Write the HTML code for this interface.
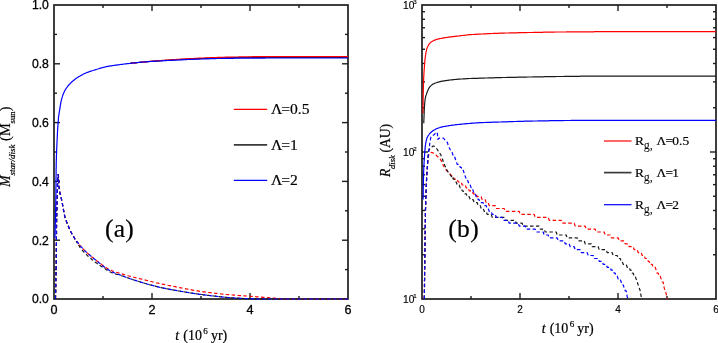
<!DOCTYPE html>
<html><head><meta charset="utf-8"><title>plot</title>
<style>
html,body{margin:0;padding:0;background:#fff;}
body{width:718px;height:343px;overflow:hidden;font-family:"Liberation Sans",sans-serif;}
svg{display:block;will-change:transform;}
</style></head><body>
<svg width="718" height="343" viewBox="0 0 718 343">
<rect width="718" height="343" fill="#fff"/>
<line x1="103" y1="299" x2="103" y2="296" stroke="#1e1e1e" stroke-width="1.4"/>
<line x1="103" y1="5" x2="103" y2="8" stroke="#1e1e1e" stroke-width="1.4"/>
<line x1="152" y1="299" x2="152" y2="293" stroke="#1e1e1e" stroke-width="1.4"/>
<line x1="152" y1="5" x2="152" y2="11" stroke="#1e1e1e" stroke-width="1.4"/>
<line x1="201" y1="299" x2="201" y2="296" stroke="#1e1e1e" stroke-width="1.4"/>
<line x1="201" y1="5" x2="201" y2="8" stroke="#1e1e1e" stroke-width="1.4"/>
<line x1="250" y1="299" x2="250" y2="293" stroke="#1e1e1e" stroke-width="1.4"/>
<line x1="250" y1="5" x2="250" y2="11" stroke="#1e1e1e" stroke-width="1.4"/>
<line x1="299" y1="299" x2="299" y2="296" stroke="#1e1e1e" stroke-width="1.4"/>
<line x1="299" y1="5" x2="299" y2="8" stroke="#1e1e1e" stroke-width="1.4"/>
<line x1="471" y1="299" x2="471" y2="296" stroke="#1e1e1e" stroke-width="1.4"/>
<line x1="471" y1="5" x2="471" y2="8" stroke="#1e1e1e" stroke-width="1.4"/>
<line x1="520" y1="299" x2="520" y2="293" stroke="#1e1e1e" stroke-width="1.4"/>
<line x1="520" y1="5" x2="520" y2="11" stroke="#1e1e1e" stroke-width="1.4"/>
<line x1="569" y1="299" x2="569" y2="296" stroke="#1e1e1e" stroke-width="1.4"/>
<line x1="569" y1="5" x2="569" y2="8" stroke="#1e1e1e" stroke-width="1.4"/>
<line x1="618" y1="299" x2="618" y2="293" stroke="#1e1e1e" stroke-width="1.4"/>
<line x1="618" y1="5" x2="618" y2="11" stroke="#1e1e1e" stroke-width="1.4"/>
<line x1="667" y1="299" x2="667" y2="296" stroke="#1e1e1e" stroke-width="1.4"/>
<line x1="667" y1="5" x2="667" y2="8" stroke="#1e1e1e" stroke-width="1.4"/>
<line x1="54" y1="269.60" x2="57" y2="269.60" stroke="#1e1e1e" stroke-width="1.4"/>
<line x1="348" y1="269.60" x2="345" y2="269.60" stroke="#1e1e1e" stroke-width="1.4"/>
<line x1="54" y1="240.20" x2="60" y2="240.20" stroke="#1e1e1e" stroke-width="1.4"/>
<line x1="348" y1="240.20" x2="342" y2="240.20" stroke="#1e1e1e" stroke-width="1.4"/>
<line x1="54" y1="210.80" x2="57" y2="210.80" stroke="#1e1e1e" stroke-width="1.4"/>
<line x1="348" y1="210.80" x2="345" y2="210.80" stroke="#1e1e1e" stroke-width="1.4"/>
<line x1="54" y1="181.40" x2="60" y2="181.40" stroke="#1e1e1e" stroke-width="1.4"/>
<line x1="348" y1="181.40" x2="342" y2="181.40" stroke="#1e1e1e" stroke-width="1.4"/>
<line x1="54" y1="152.00" x2="57" y2="152.00" stroke="#1e1e1e" stroke-width="1.4"/>
<line x1="348" y1="152.00" x2="345" y2="152.00" stroke="#1e1e1e" stroke-width="1.4"/>
<line x1="54" y1="122.60" x2="60" y2="122.60" stroke="#1e1e1e" stroke-width="1.4"/>
<line x1="348" y1="122.60" x2="342" y2="122.60" stroke="#1e1e1e" stroke-width="1.4"/>
<line x1="54" y1="93.20" x2="57" y2="93.20" stroke="#1e1e1e" stroke-width="1.4"/>
<line x1="348" y1="93.20" x2="345" y2="93.20" stroke="#1e1e1e" stroke-width="1.4"/>
<line x1="54" y1="63.80" x2="60" y2="63.80" stroke="#1e1e1e" stroke-width="1.4"/>
<line x1="348" y1="63.80" x2="342" y2="63.80" stroke="#1e1e1e" stroke-width="1.4"/>
<line x1="54" y1="34.40" x2="57" y2="34.40" stroke="#1e1e1e" stroke-width="1.4"/>
<line x1="348" y1="34.40" x2="345" y2="34.40" stroke="#1e1e1e" stroke-width="1.4"/>
<line x1="422" y1="254.75" x2="425" y2="254.75" stroke="#1e1e1e" stroke-width="1.4"/>
<line x1="716" y1="254.75" x2="713" y2="254.75" stroke="#1e1e1e" stroke-width="1.4"/>
<line x1="422" y1="228.86" x2="425" y2="228.86" stroke="#1e1e1e" stroke-width="1.4"/>
<line x1="716" y1="228.86" x2="713" y2="228.86" stroke="#1e1e1e" stroke-width="1.4"/>
<line x1="422" y1="210.50" x2="425" y2="210.50" stroke="#1e1e1e" stroke-width="1.4"/>
<line x1="716" y1="210.50" x2="713" y2="210.50" stroke="#1e1e1e" stroke-width="1.4"/>
<line x1="422" y1="196.25" x2="425" y2="196.25" stroke="#1e1e1e" stroke-width="1.4"/>
<line x1="716" y1="196.25" x2="713" y2="196.25" stroke="#1e1e1e" stroke-width="1.4"/>
<line x1="422" y1="184.61" x2="425" y2="184.61" stroke="#1e1e1e" stroke-width="1.4"/>
<line x1="716" y1="184.61" x2="713" y2="184.61" stroke="#1e1e1e" stroke-width="1.4"/>
<line x1="422" y1="174.77" x2="425" y2="174.77" stroke="#1e1e1e" stroke-width="1.4"/>
<line x1="716" y1="174.77" x2="713" y2="174.77" stroke="#1e1e1e" stroke-width="1.4"/>
<line x1="422" y1="166.25" x2="425" y2="166.25" stroke="#1e1e1e" stroke-width="1.4"/>
<line x1="716" y1="166.25" x2="713" y2="166.25" stroke="#1e1e1e" stroke-width="1.4"/>
<line x1="422" y1="158.73" x2="425" y2="158.73" stroke="#1e1e1e" stroke-width="1.4"/>
<line x1="716" y1="158.73" x2="713" y2="158.73" stroke="#1e1e1e" stroke-width="1.4"/>
<line x1="422" y1="152.00" x2="428" y2="152.00" stroke="#1e1e1e" stroke-width="1.4"/>
<line x1="716" y1="152.00" x2="710" y2="152.00" stroke="#1e1e1e" stroke-width="1.4"/>
<line x1="422" y1="107.75" x2="425" y2="107.75" stroke="#1e1e1e" stroke-width="1.4"/>
<line x1="716" y1="107.75" x2="713" y2="107.75" stroke="#1e1e1e" stroke-width="1.4"/>
<line x1="422" y1="81.86" x2="425" y2="81.86" stroke="#1e1e1e" stroke-width="1.4"/>
<line x1="716" y1="81.86" x2="713" y2="81.86" stroke="#1e1e1e" stroke-width="1.4"/>
<line x1="422" y1="63.50" x2="425" y2="63.50" stroke="#1e1e1e" stroke-width="1.4"/>
<line x1="716" y1="63.50" x2="713" y2="63.50" stroke="#1e1e1e" stroke-width="1.4"/>
<line x1="422" y1="49.25" x2="425" y2="49.25" stroke="#1e1e1e" stroke-width="1.4"/>
<line x1="716" y1="49.25" x2="713" y2="49.25" stroke="#1e1e1e" stroke-width="1.4"/>
<line x1="422" y1="37.61" x2="425" y2="37.61" stroke="#1e1e1e" stroke-width="1.4"/>
<line x1="716" y1="37.61" x2="713" y2="37.61" stroke="#1e1e1e" stroke-width="1.4"/>
<line x1="422" y1="27.77" x2="425" y2="27.77" stroke="#1e1e1e" stroke-width="1.4"/>
<line x1="716" y1="27.77" x2="713" y2="27.77" stroke="#1e1e1e" stroke-width="1.4"/>
<line x1="422" y1="19.25" x2="425" y2="19.25" stroke="#1e1e1e" stroke-width="1.4"/>
<line x1="716" y1="19.25" x2="713" y2="19.25" stroke="#1e1e1e" stroke-width="1.4"/>
<line x1="422" y1="11.73" x2="425" y2="11.73" stroke="#1e1e1e" stroke-width="1.4"/>
<line x1="716" y1="11.73" x2="713" y2="11.73" stroke="#1e1e1e" stroke-width="1.4"/>
<rect x="54" y="5" width="294" height="294" fill="none" stroke="#1e1e1e" stroke-width="1.7"/>
<rect x="422" y="5" width="294" height="294" fill="none" stroke="#1e1e1e" stroke-width="1.7"/>
<path d="M55.5,299.0 L55.5,298.0 L55.5,297.0 L55.6,296.0 L55.6,295.0 L55.6,294.0 L55.6,293.0 L55.7,292.0 L55.7,291.0 L55.7,290.0 L55.7,289.0 L55.7,288.0 L55.8,287.0 L55.8,286.0 L55.8,284.9 L55.8,283.9 L55.8,282.9 L55.9,281.9 L55.9,280.9 L55.9,279.9 L55.9,278.9 L55.9,277.9 L56.0,276.9 L56.0,275.9 L56.0,274.9 L56.0,273.9 L56.0,272.9 L56.0,271.9 L56.0,270.9 L56.1,269.9 L56.1,268.9 L56.1,267.9 L56.1,266.9 L56.1,265.9 L56.1,264.9 L56.2,263.9 L56.2,262.9 L56.2,261.9 L56.2,260.9 L56.2,259.9 L56.2,258.9 L56.2,257.9 L56.2,256.8 L56.2,255.8 L56.3,254.8 L56.3,253.8 L56.3,252.8 L56.3,251.8 L56.3,250.8 L56.3,249.8 L56.3,248.8 L56.3,247.8 L56.3,246.8 L56.3,245.8 L56.3,244.8 L56.4,243.8 L56.4,242.8 L56.4,241.8 L56.4,240.8 L56.4,239.8 L56.4,238.8 L56.4,237.8 L56.4,236.8 L56.4,235.8 L56.4,234.8 L56.5,233.8 L56.5,232.8 L56.5,231.8 L56.5,230.7 L56.5,229.7 L56.5,228.7 L56.5,227.7 L56.5,226.7 L56.6,225.7 L56.6,224.7 L56.6,223.7 L56.6,222.7 L56.6,221.7 L56.6,220.7 L56.7,219.7 L56.7,218.7 L56.7,217.7 L56.7,216.7 L56.7,215.7 L56.8,214.7 L56.8,213.7 L56.8,212.7 L56.8,211.7 L56.9,210.7 L56.9,209.7 L56.9,208.7 L56.9,207.7 L56.9,206.7 L57.0,205.7 L57.0,204.7 L57.0,203.7 L57.0,202.6 L57.1,201.6 L57.1,200.6 L57.1,199.6 L57.1,198.6 L57.2,197.6 L57.2,196.6 L57.2,195.6 L57.2,194.6 L57.3,193.6 L57.3,192.6 L57.3,191.6 L57.3,190.6 L57.4,189.6 L57.4,188.6 L57.4,187.6 L57.5,186.6 L57.5,185.6 L57.5,184.6 L57.6,183.6 L57.6,182.6 L57.7,181.4 L57.7,180.1 L57.8,178.7 L57.8,177.5 L57.9,176.3 L57.9,175.4 L58.0,174.8 L58.1,174.6 L58.2,175.1 L58.4,176.3 L58.6,177.6 L58.6,178.6 L58.7,179.6 L58.7,180.6 L58.7,181.6 L58.8,182.6 L58.8,183.6 L58.8,184.6 L58.9,185.6 L58.9,186.6 L59.1,187.6 L59.2,188.6 L59.4,189.6 L59.5,190.6 L59.7,191.6 L59.9,192.6 L60.1,193.6 L60.3,194.5 L60.6,195.5 L60.8,196.5 L61.0,197.5 L61.3,198.4 L61.5,199.4 L61.7,200.4 L61.9,201.4 L62.1,202.4 L62.3,203.4 L62.5,204.3 L62.7,205.3 L62.9,206.3 L63.1,207.3 L63.3,208.3 L63.4,209.3 L63.6,210.3 L63.8,211.3 L63.9,212.3 L64.1,213.3 L64.3,214.2 L64.5,215.2 L64.7,216.2 L65.0,217.1 L65.3,218.1 L65.6,219.1 L65.9,220.0 L66.3,221.0 L66.6,221.9 L67.0,222.8 L67.3,223.8 L67.7,224.7 L68.1,225.6 L68.5,226.6 L68.9,227.5 L69.3,228.4 L69.7,229.3 L70.1,230.2 L70.6,231.1 L71.0,232.0 L71.5,232.9 L71.9,233.8 L72.4,234.7 L72.9,235.6 L73.4,236.4 L74.0,237.3 L74.5,238.1 L75.0,239.0 L75.6,239.8 L76.2,240.6 L76.8,241.4 L77.4,242.2 L78.0,243.0 L78.7,243.8 L79.3,244.6" fill="none" stroke="#ff0000" stroke-width="1.2" stroke-linejoin="round" stroke-dasharray="3.5 2.4" stroke-dashoffset="0"/>
<path d="M79.3,244.6 L79.9,245.3 L80.6,246.1 L81.2,246.9 L81.9,247.6 L82.6,248.4 L83.3,249.1 L84.0,249.8 L84.7,250.6 L85.4,251.3 L86.1,251.9 L86.9,252.6 L87.6,253.3 L88.4,253.9 L89.1,254.6 L89.9,255.2 L90.7,255.9 L91.4,256.5 L92.2,257.2 L93.0,257.8 L93.8,258.5 L94.5,259.1 L95.3,259.7 L96.1,260.3 L96.9,260.9 L97.6,261.5 L98.4,262.1 L99.2,262.6 L100.0,263.2 L100.8,263.8 L101.5,264.4 L102.3,265.0 L103.1,265.6 L103.9,266.2 L104.7,266.8 L105.5,267.3 L106.3,267.8 L107.1,268.3 L108.0,268.8 L108.8,269.3 L109.7,269.7 L110.6,270.1 L111.5,270.6 L112.4,270.9 L113.3,271.3 L114.2,271.6 L115.2,271.9 L116.1,272.2 L117.0,272.5 L118.0,272.7 L118.9,273.0 L119.9,273.3 L120.8,273.5 L121.8,273.8 L122.7,274.1 L123.6,274.4 L124.6,274.7 L125.5,275.0 L126.5,275.2 L127.4,275.5 L128.3,275.8 L129.3,276.0 L130.2,276.3 L131.2,276.5 L132.1,276.8 L133.1,277.0 L134.0,277.3 L135.0,277.5 L136.0,277.8 L136.9,278.0 L137.9,278.3 L138.8,278.5 L139.8,278.7 L140.7,279.0 L141.7,279.2 L142.7,279.5 L143.6,279.7 L144.6,279.9 L145.6,280.1 L146.5,280.4 L147.5,280.6 L148.5,280.8 L149.4,281.0 L150.4,281.3 L151.4,281.5 L152.3,281.8 L153.3,282.0 L154.3,282.3 L155.2,282.5 L156.2,282.8 L157.2,283.0 L158.2,283.2 L159.1,283.4 L160.1,283.7 L161.1,283.9 L162.1,284.1 L163.0,284.3 L164.0,284.4 L165.0,284.6 L166.0,284.8 L167.0,285.0 L168.0,285.3 L169.0,285.5 L169.9,285.7 L170.9,285.9 L171.9,286.1 L172.9,286.3 L173.9,286.5 L174.9,286.7 L175.9,286.9 L176.9,287.1 L177.9,287.3 L178.8,287.4 L179.8,287.6 L180.8,287.8 L181.8,288.0 L182.8,288.2 L183.8,288.4 L184.8,288.6 L185.8,288.8 L186.8,289.0 L187.7,289.2 L188.7,289.4 L189.7,289.5 L190.7,289.7 L191.7,289.9 L192.7,290.1 L193.7,290.3 L194.7,290.4 L195.7,290.6 L196.7,290.8 L197.7,290.9 L198.7,291.1 L199.7,291.3 L200.7,291.4 L201.6,291.6 L202.6,291.7 L203.6,291.8 L204.6,291.9 L205.6,292.1 L206.6,292.2 L207.6,292.3 L208.6,292.5 L209.6,292.6 L210.6,292.7 L211.6,292.8 L212.6,292.9 L213.6,293.0 L214.6,293.2 L215.6,293.3 L216.6,293.4 L217.6,293.5 L218.6,293.6 L219.6,293.7 L220.6,293.9 L221.6,294.0 L222.6,294.1 L223.6,294.2 L224.6,294.3 L225.6,294.4 L226.6,294.5 L227.6,294.6 L228.6,294.7 L229.6,294.7 L230.6,294.8 L231.6,294.9 L232.6,295.0 L233.6,295.1 L234.6,295.2 L235.6,295.3 L236.6,295.3 L237.6,295.4 L238.6,295.5 L239.6,295.6 L240.6,295.6 L241.6,295.7 L242.6,295.8 L243.6,295.8 L244.6,295.9 L245.6,296.0 L246.6,296.0 L247.6,296.1 L248.6,296.1 L249.6,296.2 L250.6,296.3 L251.6,296.4 L252.6,296.5 L253.6,296.6 L254.6,296.6 L255.7,296.7 L256.7,296.8 L257.7,296.9 L258.7,297.0 L259.7,297.0 L260.7,297.1 L261.7,297.2 L262.7,297.3 L263.7,297.3 L264.7,297.4 L265.7,297.5 L266.7,297.6 L267.7,297.7 L268.7,297.7 L269.7,297.8 L270.7,297.9 L271.7,298.0 L272.7,298.1 L273.7,298.1 L274.7,298.2 L275.7,298.3 L276.7,298.4 L277.7,298.5 L278.7,298.6 L279.7,298.6 L280.7,298.7 L281.7,298.8 L282.7,298.9 L283.8,299.0 L284.8,299.0 L285.8,299.0 L286.8,299.0 L287.8,299.0 L288.8,299.0 L289.8,299.0 L290.8,299.0 L291.8,299.0 L292.8,299.0 L293.8,299.0 L294.8,299.0 L295.8,299.0 L296.8,299.0 L297.8,299.0 L298.8,299.0 L299.8,299.0 L300.8,299.0 L301.8,299.0 L302.8,299.0 L303.8,299.0 L304.8,299.0 L305.8,299.0 L306.8,299.0 L307.8,299.0 L308.8,299.0 L309.8,299.0 L310.9,299.0 L311.9,299.0 L312.9,299.0 L313.9,299.0 L314.9,299.0 L315.9,299.0 L316.9,299.0 L317.9,299.0 L318.9,299.0 L319.9,299.0 L320.9,299.0 L321.9,299.0 L322.9,299.0 L323.9,299.0 L324.9,299.0 L325.9,299.0 L326.9,299.0 L327.9,299.0 L328.9,299.0 L329.9,299.0 L330.9,299.0 L331.9,299.0 L332.9,299.0 L333.9,299.0 L334.9,299.0 L336.0,299.0 L337.0,299.0 L338.0,299.0 L339.0,299.0 L340.0,299.0 L341.0,299.0 L342.0,299.0 L343.0,299.0 L344.0,299.0 L345.0,299.0 L346.0,299.0 L347.0,299.0 L348.0,299.0" fill="none" stroke="#ff0000" stroke-width="1.2" stroke-linejoin="round" stroke-dasharray="3.5 2.4" stroke-dashoffset="0.6"/>
<path d="M55.5,299.0 L55.5,298.0 L55.5,297.0 L55.6,296.0 L55.6,295.0 L55.6,294.0 L55.6,293.0 L55.7,292.0 L55.7,291.0 L55.7,290.0 L55.7,289.0 L55.7,288.0 L55.8,287.0 L55.8,286.0 L55.8,284.9 L55.8,283.9 L55.8,282.9 L55.9,281.9 L55.9,280.9 L55.9,279.9 L55.9,278.9 L55.9,277.9 L56.0,276.9 L56.0,275.9 L56.0,274.9 L56.0,273.9 L56.0,272.9 L56.0,271.9 L56.0,270.9 L56.1,269.9 L56.1,268.9 L56.1,267.9 L56.1,266.9 L56.1,265.9 L56.1,264.9 L56.2,263.9 L56.2,262.9 L56.2,261.9 L56.2,260.9 L56.2,259.9 L56.2,258.9 L56.2,257.9 L56.2,256.8 L56.2,255.8 L56.3,254.8 L56.3,253.8 L56.3,252.8 L56.3,251.8 L56.3,250.8 L56.3,249.8 L56.3,248.8 L56.3,247.8 L56.3,246.8 L56.3,245.8 L56.3,244.8 L56.4,243.8 L56.4,242.8 L56.4,241.8 L56.4,240.8 L56.4,239.8 L56.4,238.8 L56.4,237.8 L56.4,236.8 L56.4,235.8 L56.4,234.8 L56.5,233.8 L56.5,232.8 L56.5,231.8 L56.5,230.7 L56.5,229.7 L56.5,228.7 L56.5,227.7 L56.5,226.7 L56.6,225.7 L56.6,224.7 L56.6,223.7 L56.6,222.7 L56.6,221.7 L56.6,220.7 L56.7,219.7 L56.7,218.7 L56.7,217.7 L56.7,216.7 L56.7,215.7 L56.8,214.7 L56.8,213.7 L56.8,212.7 L56.8,211.7 L56.9,210.7 L56.9,209.7 L56.9,208.7 L56.9,207.7 L56.9,206.7 L57.0,205.7 L57.0,204.7 L57.0,203.7 L57.0,202.6 L57.1,201.6 L57.1,200.6 L57.1,199.6 L57.1,198.6 L57.2,197.6 L57.2,196.6 L57.2,195.6 L57.2,194.6 L57.3,193.6 L57.3,192.6 L57.3,191.6 L57.3,190.6 L57.4,189.6 L57.4,188.6 L57.4,187.6 L57.5,186.6 L57.5,185.6 L57.5,184.6 L57.6,183.6 L57.6,182.6 L57.7,181.4 L57.7,180.1 L57.8,178.7 L57.8,177.5 L57.9,176.3 L57.9,175.4 L58.0,174.8 L58.1,174.6 L58.2,175.1 L58.4,176.3 L58.6,177.6 L58.6,178.6 L58.7,179.6 L58.7,180.6 L58.7,181.6 L58.8,182.6 L58.8,183.6 L58.8,184.6 L58.9,185.6 L58.9,186.6 L59.1,187.6 L59.2,188.6 L59.4,189.6 L59.5,190.6 L59.7,191.6 L59.9,192.6 L60.1,193.6 L60.3,194.5 L60.6,195.5 L60.8,196.5 L61.0,197.5 L61.3,198.4 L61.5,199.4 L61.7,200.4 L61.9,201.4 L62.1,202.4 L62.3,203.4 L62.5,204.3 L62.7,205.3 L62.9,206.3 L63.1,207.3 L63.3,208.3 L63.4,209.3 L63.6,210.3 L63.8,211.3 L63.9,212.3 L64.1,213.3 L64.3,214.2 L64.5,215.2 L64.7,216.2 L65.0,217.1 L65.3,218.1 L65.6,219.1 L65.9,220.0 L66.3,221.0 L66.6,221.9 L67.0,222.8 L67.3,223.8 L67.7,224.7 L68.1,225.6 L68.5,226.6 L68.9,227.5 L69.3,228.4 L69.7,229.3 L70.1,230.2 L70.6,231.1 L71.0,232.0 L71.5,232.9 L71.9,233.8 L72.4,234.7 L72.9,235.6 L73.4,236.4 L74.0,237.3 L74.5,238.3 L75.0,239.3 L75.6,240.3 L76.2,241.3" fill="none" stroke="#1a1a1a" stroke-width="1.2" stroke-linejoin="round" stroke-dasharray="3.5 2.4" stroke-dashoffset="0"/>
<path d="M76.2,241.3 L76.8,242.4 L77.4,243.4 L78.0,244.4 L78.7,245.3 L79.3,246.3 L79.9,247.3 L80.6,248.2 L81.2,249.0 L81.9,249.8 L82.6,250.6 L83.3,251.4 L84.0,252.2 L84.7,253.0 L85.4,253.8 L86.1,254.4 L86.9,255.1 L87.6,255.8 L88.4,256.4 L89.1,257.1 L89.9,257.7 L90.7,258.4 L91.4,259.0 L92.2,259.7 L93.0,260.3 L93.8,261.0 L94.5,261.6 L95.3,262.2 L96.1,262.8 L96.9,263.3 L97.6,263.9 L98.4,264.4 L99.2,265.0 L100.0,265.5 L100.8,266.0 L101.5,266.6 L102.3,267.1 L103.1,267.6 L103.9,268.1 L104.7,268.6 L105.5,269.1 L106.3,269.7 L107.1,270.2 L108.0,270.7 L108.8,271.2 L109.7,271.7 L110.6,272.1 L111.5,272.6 L112.4,272.9 L113.3,273.3 L114.2,273.6 L115.2,273.8 L116.1,274.1 L117.0,274.3 L118.0,274.6 L118.9,274.9 L119.9,275.2 L120.8,275.5 L121.8,275.8 L122.7,276.1" fill="none" stroke="#1a1a1a" stroke-width="1.2" stroke-linejoin="round" stroke-dasharray="3.5 2.4" stroke-dashoffset="1.47"/>
<path d="M122.7,276.1 L123.6,276.4 L124.6,276.7 L125.5,277.0 L126.5,277.4 L127.4,277.7 L128.3,278.0 L129.3,278.4 L130.2,278.7 L131.2,279.0 L132.1,279.4 L133.1,279.7 L134.0,280.0 L135.0,280.3 L136.0,280.6 L136.9,280.9 L137.9,281.2 L138.8,281.5 L139.8,281.8 L140.7,282.1 L141.7,282.4 L142.7,282.7 L143.6,282.9 L144.6,283.2 L145.6,283.5 L146.5,283.8 L147.5,284.1 L148.5,284.3 L149.4,284.6 L150.4,284.9 L151.4,285.1 L152.3,285.4 L153.3,285.7 L154.3,285.9 L155.2,286.2 L156.2,286.4 L157.2,286.7 L158.2,286.9 L159.1,287.2 L160.1,287.4 L161.1,287.6 L162.1,287.8 L163.0,288.0 L164.0,288.2 L165.0,288.4 L166.0,288.6 L167.0,288.8 L168.0,289.0 L169.0,289.2 L169.9,289.4 L170.9,289.6 L171.9,289.7 L172.9,289.9 L173.9,290.1 L174.9,290.3 L175.9,290.4 L176.9,290.6 L177.9,290.8 L178.8,291.0 L179.8,291.1 L180.8,291.3 L181.8,291.5 L182.8,291.6 L183.8,291.8 L184.8,292.0 L185.8,292.1 L186.8,292.3 L187.7,292.5 L188.7,292.6 L189.7,292.8 L190.7,293.0 L191.7,293.1 L192.7,293.3 L193.7,293.4 L194.7,293.6 L195.7,293.7 L196.7,293.9 L197.7,294.0 L198.7,294.1 L199.7,294.3 L200.7,294.4 L201.6,294.5 L202.6,294.7 L203.6,294.8 L204.6,294.9 L205.6,295.1 L206.6,295.2 L207.6,295.3 L208.6,295.4 L209.6,295.5 L210.6,295.7 L211.6,295.8 L212.6,295.9 L213.6,296.0 L214.6,296.1 L215.6,296.2 L216.6,296.3 L217.6,296.5 L218.6,296.6 L219.6,296.7 L220.6,296.8 L221.6,296.9 L222.6,297.0 L223.6,297.1 L224.6,297.2 L225.6,297.3 L226.6,297.4 L227.6,297.5 L228.6,297.6 L229.6,297.6 L230.6,297.7 L231.6,297.8 L232.6,297.9 L233.6,297.9 L234.6,298.0 L235.6,298.0 L236.6,298.1 L237.6,298.2 L238.6,298.2 L239.6,298.3 L240.6,298.3 L241.6,298.4 L242.6,298.4 L243.6,298.5 L244.6,298.5 L245.6,298.5 L246.6,298.6 L247.6,298.6 L248.6,298.7 L249.6,298.7 L250.6,298.7 L251.6,298.8 L252.6,298.8 L253.6,298.8 L254.6,298.9 L255.7,298.9 L256.7,298.9 L257.7,299.0 L258.7,299.0 L259.7,299.0 L260.7,299.0 L261.7,299.0 L262.7,299.0 L263.7,299.0 L264.7,299.0 L265.7,299.0 L266.7,299.0 L267.7,299.0 L268.7,299.0 L269.7,299.0 L270.7,299.0 L271.7,299.0 L272.7,299.0 L273.7,299.0 L274.7,299.0 L275.7,299.0 L276.7,299.0 L277.7,299.0 L278.7,299.0 L279.7,299.0 L280.7,299.0 L281.7,299.0 L282.7,299.0 L283.8,299.0 L284.8,299.0 L285.8,299.0 L286.8,299.0 L287.8,299.0 L288.8,299.0 L289.8,299.0 L290.8,299.0 L291.8,299.0 L292.8,299.0 L293.8,299.0 L294.8,299.0 L295.8,299.0 L296.8,299.0 L297.8,299.0 L298.8,299.0 L299.8,299.0 L300.8,299.0 L301.8,299.0 L302.8,299.0 L303.8,299.0 L304.8,299.0 L305.8,299.0 L306.8,299.0 L307.8,299.0 L308.8,299.0 L309.8,299.0 L310.9,299.0 L311.9,299.0 L312.9,299.0 L313.9,299.0 L314.9,299.0 L315.9,299.0 L316.9,299.0 L317.9,299.0 L318.9,299.0 L319.9,299.0 L320.9,299.0 L321.9,299.0 L322.9,299.0 L323.9,299.0 L324.9,299.0 L325.9,299.0 L326.9,299.0 L327.9,299.0 L328.9,299.0 L329.9,299.0 L330.9,299.0 L331.9,299.0 L332.9,299.0 L333.9,299.0 L334.9,299.0 L336.0,299.0 L337.0,299.0 L338.0,299.0 L339.0,299.0 L340.0,299.0 L341.0,299.0 L342.0,299.0 L343.0,299.0 L344.0,299.0 L345.0,299.0 L346.0,299.0 L347.0,299.0 L348.0,299.0" fill="none" stroke="#1a1a1a" stroke-width="1.2" stroke-linejoin="round" stroke-dasharray="3.5 2.4" stroke-dashoffset="1.73"/>
<path d="M55.5,299.0 L55.5,298.0 L55.5,297.0 L55.6,296.0 L55.6,295.0 L55.6,294.0 L55.6,293.0 L55.7,292.0 L55.7,291.0 L55.7,290.0 L55.7,289.0 L55.7,288.0 L55.8,287.0 L55.8,286.0 L55.8,284.9 L55.8,283.9 L55.8,282.9 L55.9,281.9 L55.9,280.9 L55.9,279.9 L55.9,278.9 L55.9,277.9 L56.0,276.9 L56.0,275.9 L56.0,274.9 L56.0,273.9 L56.0,272.9 L56.0,271.9 L56.0,270.9 L56.1,269.9 L56.1,268.9 L56.1,267.9 L56.1,266.9 L56.1,265.9 L56.1,264.9 L56.2,263.9 L56.2,262.9 L56.2,261.9 L56.2,260.9 L56.2,259.9 L56.2,258.9 L56.2,257.9 L56.2,256.8 L56.2,255.8 L56.3,254.8 L56.3,253.8 L56.3,252.8 L56.3,251.8 L56.3,250.8 L56.3,249.8 L56.3,248.8 L56.3,247.8 L56.3,246.8 L56.3,245.8 L56.3,244.8 L56.4,243.8 L56.4,242.8 L56.4,241.8 L56.4,240.8 L56.4,239.8 L56.4,238.8 L56.4,237.8 L56.4,236.8 L56.4,235.8 L56.4,234.8 L56.5,233.8 L56.5,232.8 L56.5,231.8 L56.5,230.7 L56.5,229.7 L56.5,228.7 L56.5,227.7 L56.5,226.7 L56.6,225.7 L56.6,224.7 L56.6,223.7 L56.6,222.7 L56.6,221.7 L56.6,220.7 L56.7,219.7 L56.7,218.7 L56.7,217.7 L56.7,216.7 L56.7,215.7 L56.8,214.7 L56.8,213.7 L56.8,212.7 L56.8,211.7 L56.9,210.7 L56.9,209.7 L56.9,208.7 L56.9,207.7 L56.9,206.7 L57.0,205.7 L57.0,204.7 L57.0,203.7 L57.0,202.6 L57.1,201.6 L57.1,200.6 L57.1,199.6 L57.1,198.6 L57.2,197.6 L57.2,196.6 L57.2,195.6 L57.2,194.6 L57.3,193.6 L57.3,192.6 L57.3,191.6 L57.3,190.6 L57.4,189.6 L57.4,188.6 L57.4,187.6 L57.5,186.6 L57.5,185.6 L57.5,184.6 L57.6,183.6 L57.6,182.6 L57.7,181.4 L57.7,180.1 L57.8,178.7 L57.8,177.5 L57.9,176.3 L57.9,175.4 L58.0,174.8 L58.1,174.6 L58.2,175.1 L58.4,176.3 L58.6,177.6 L58.6,178.6 L58.7,179.6 L58.7,180.6 L58.7,181.6 L58.8,182.6 L58.8,183.6 L58.8,184.6 L58.9,185.6 L58.9,186.6 L59.1,187.6 L59.2,188.6 L59.4,189.6 L59.5,190.6 L59.7,191.6 L59.9,192.6 L60.1,193.6 L60.3,194.5 L60.6,195.5 L60.8,196.5 L61.0,197.5 L61.3,198.4 L61.5,199.4 L61.7,200.4 L61.9,201.4 L62.1,202.4 L62.3,203.4 L62.5,204.3 L62.7,205.3 L62.9,206.3 L63.1,207.3 L63.3,208.3 L63.4,209.3 L63.6,210.3 L63.8,211.3 L63.9,212.3 L64.1,213.3 L64.3,214.2 L64.5,215.2 L64.7,216.2 L65.0,217.1 L65.3,218.1 L65.6,219.1 L65.9,220.0 L66.3,221.0 L66.6,221.9 L67.0,222.8 L67.3,223.8 L67.7,224.7 L68.1,225.6 L68.5,226.6 L68.9,227.5 L69.3,228.4 L69.7,229.3 L70.1,230.2 L70.6,231.1 L71.0,232.0 L71.5,232.9 L71.9,233.8 L72.4,234.7 L72.9,235.6 L73.4,236.4 L74.0,237.3 L74.5,238.1 L75.0,239.0 L75.6,239.8 L76.2,240.6 L76.8,241.4 L77.4,242.2 L78.0,243.0 L78.7,243.8 L79.3,244.6 L79.9,245.3 L80.6,246.1 L81.2,246.9 L81.9,247.6 L82.6,248.4 L83.3,249.1 L84.0,249.8 L84.7,250.6 L85.4,251.3 L86.1,251.9 L86.9,252.6 L87.6,253.3 L88.4,253.9 L89.1,254.6 L89.9,255.2 L90.7,255.9 L91.4,256.5 L92.2,257.2 L93.0,257.8 L93.8,258.5 L94.5,259.1 L95.3,259.7 L96.1,260.4 L96.9,261.0 L97.6,261.6 L98.4,262.3 L99.2,262.9 L100.0,263.5 L100.8,264.2 L101.5,264.8 L102.3,265.5 L103.1,266.1 L103.9,266.7 L104.7,267.3 L105.5,267.9 L106.3,268.5 L107.1,269.1 L108.0,269.6 L108.8,270.1 L109.7,270.6 L110.6,271.1 L111.5,271.5 L112.4,272.0 L113.3,272.4 L114.2,272.8 L115.2,273.2 L116.1,273.5 L117.0,273.8 L118.0,274.2 L118.9,274.5 L119.9,274.9 L120.8,275.2 L121.8,275.6 L122.7,275.9 L123.6,276.3 L124.6,276.6 L125.5,277.0 L126.5,277.4 L127.4,277.7 L128.3,278.0 L129.3,278.4 L130.2,278.7 L131.2,279.0 L132.1,279.4 L133.1,279.7 L134.0,280.0 L135.0,280.3 L136.0,280.6 L136.9,280.9 L137.9,281.2 L138.8,281.5 L139.8,281.8 L140.7,282.1 L141.7,282.4 L142.7,282.7 L143.6,282.9 L144.6,283.2 L145.6,283.5 L146.5,283.8 L147.5,284.1 L148.5,284.3 L149.4,284.6 L150.4,284.9 L151.4,285.1 L152.3,285.4 L153.3,285.7 L154.3,285.9 L155.2,286.2 L156.2,286.4 L157.2,286.7 L158.2,286.9 L159.1,287.2 L160.1,287.4 L161.1,287.6 L162.1,287.8 L163.0,288.0 L164.0,288.2 L165.0,288.4 L166.0,288.6 L167.0,288.8 L168.0,289.0 L169.0,289.2 L169.9,289.4 L170.9,289.6 L171.9,289.7 L172.9,289.9 L173.9,290.1 L174.9,290.3 L175.9,290.4 L176.9,290.6 L177.9,290.8 L178.8,291.0 L179.8,291.1 L180.8,291.3 L181.8,291.5 L182.8,291.6 L183.8,291.8 L184.8,292.0 L185.8,292.1 L186.8,292.3 L187.7,292.5 L188.7,292.6 L189.7,292.8 L190.7,293.0 L191.7,293.1 L192.7,293.3 L193.7,293.4 L194.7,293.6 L195.7,293.7 L196.7,293.9 L197.7,294.0 L198.7,294.1 L199.7,294.3 L200.7,294.4 L201.6,294.5 L202.6,294.7 L203.6,294.8 L204.6,294.9 L205.6,295.1 L206.6,295.2 L207.6,295.3 L208.6,295.4 L209.6,295.5 L210.6,295.7 L211.6,295.8 L212.6,295.9 L213.6,296.0 L214.6,296.1 L215.6,296.2 L216.6,296.3 L217.6,296.5 L218.6,296.6 L219.6,296.7 L220.6,296.8 L221.6,296.9 L222.6,297.0 L223.6,297.1 L224.6,297.2 L225.6,297.3 L226.6,297.4 L227.6,297.5 L228.6,297.6 L229.6,297.6 L230.6,297.7 L231.6,297.8 L232.6,297.9 L233.6,297.9 L234.6,298.0 L235.6,298.0 L236.6,298.1 L237.6,298.2 L238.6,298.2 L239.6,298.3 L240.6,298.3 L241.6,298.4 L242.6,298.4 L243.6,298.5 L244.6,298.5 L245.6,298.5 L246.6,298.6 L247.6,298.6 L248.6,298.7 L249.6,298.7 L250.6,298.7 L251.6,298.8 L252.6,298.8 L253.6,298.8 L254.6,298.9 L255.7,298.9 L256.7,298.9 L257.7,299.0 L258.7,299.0 L259.7,299.0 L260.7,299.0 L261.7,299.0 L262.7,299.0 L263.7,299.0 L264.7,299.0 L265.7,299.0 L266.7,299.0 L267.7,299.0 L268.7,299.0 L269.7,299.0 L270.7,299.0 L271.7,299.0 L272.7,299.0 L273.7,299.0 L274.7,299.0 L275.7,299.0 L276.7,299.0 L277.7,299.0 L278.7,299.0 L279.7,299.0 L280.7,299.0 L281.7,299.0 L282.7,299.0 L283.8,299.0 L284.8,299.0 L285.8,299.0 L286.8,299.0 L287.8,299.0 L288.8,299.0 L289.8,299.0 L290.8,299.0 L291.8,299.0 L292.8,299.0 L293.8,299.0 L294.8,299.0 L295.8,299.0 L296.8,299.0 L297.8,299.0 L298.8,299.0 L299.8,299.0 L300.8,299.0 L301.8,299.0 L302.8,299.0 L303.8,299.0 L304.8,299.0 L305.8,299.0 L306.8,299.0 L307.8,299.0 L308.8,299.0 L309.8,299.0 L310.9,299.0 L311.9,299.0 L312.9,299.0 L313.9,299.0 L314.9,299.0 L315.9,299.0 L316.9,299.0 L317.9,299.0 L318.9,299.0 L319.9,299.0 L320.9,299.0 L321.9,299.0 L322.9,299.0 L323.9,299.0 L324.9,299.0 L325.9,299.0 L326.9,299.0 L327.9,299.0 L328.9,299.0 L329.9,299.0 L330.9,299.0 L331.9,299.0 L332.9,299.0 L333.9,299.0 L334.9,299.0 L336.0,299.0 L337.0,299.0 L338.0,299.0 L339.0,299.0 L340.0,299.0 L341.0,299.0 L342.0,299.0 L343.0,299.0 L344.0,299.0 L345.0,299.0 L346.0,299.0 L347.0,299.0 L348.0,299.0" fill="none" stroke="#0000ff" stroke-width="1.2" stroke-linejoin="round" stroke-dasharray="3.5 2.4" stroke-dashoffset="0"/>
<path d="M130.3,63.4 L131.3,63.2 L132.3,63.1 L133.3,63.0 L134.3,62.9 L135.3,62.8 L136.3,62.7 L137.3,62.6 L138.3,62.5 L139.3,62.4 L140.3,62.3 L141.3,62.2 L142.3,62.1 L143.3,62.0 L144.3,61.9 L145.3,61.8 L146.3,61.8 L147.3,61.7 L148.3,61.6 L149.3,61.5 L150.3,61.4 L151.3,61.4 L152.3,61.3 L153.3,61.2 L154.3,61.1 L155.3,61.1 L156.3,61.0 L157.3,60.9 L158.3,60.9 L159.3,60.8 L160.3,60.7 L161.3,60.7 L162.3,60.6 L163.3,60.5 L164.3,60.5 L165.3,60.4 L166.3,60.4 L167.3,60.3 L168.3,60.2 L169.4,60.2 L170.4,60.1 L171.4,60.0 L172.4,60.0 L173.4,59.9 L174.4,59.9 L175.4,59.8 L176.4,59.7 L177.4,59.7 L178.4,59.6 L179.4,59.6 L180.4,59.5 L181.4,59.5 L182.4,59.4 L183.4,59.4 L184.4,59.3 L185.4,59.3 L186.4,59.2 L187.4,59.2 L188.4,59.1 L189.4,59.1 L190.4,59.0 L191.4,59.0 L192.4,58.9 L193.4,58.9 L194.4,58.8 L195.4,58.8 L196.4,58.8 L197.4,58.7 L198.4,58.7 L199.4,58.6 L200.4,58.6 L201.4,58.6 L202.4,58.5 L203.5,58.5 L204.5,58.4 L205.5,58.4 L206.5,58.4 L207.5,58.3 L208.5,58.3 L209.5,58.2 L210.5,58.2 L211.5,58.2 L212.5,58.1 L213.5,58.1 L214.5,58.1 L215.5,58.0 L216.5,58.0 L217.5,58.0 L218.5,58.0 L219.5,57.9 L220.5,57.9 L221.5,57.9 L222.5,57.9 L223.5,57.8 L224.5,57.8 L225.5,57.8 L226.5,57.8 L227.5,57.8 L228.5,57.7 L229.5,57.7 L230.5,57.7 L231.6,57.7 L232.6,57.7 L233.6,57.6 L234.6,57.6 L235.6,57.6 L236.6,57.6 L237.6,57.6 L238.6,57.6 L239.6,57.6 L240.6,57.5 L241.6,57.5 L242.6,57.5 L243.6,57.5 L244.6,57.5 L245.6,57.5 L246.6,57.5 L247.6,57.5 L248.6,57.4 L249.6,57.4 L250.6,57.4 L251.6,57.4 L252.6,57.4 L253.6,57.4 L254.6,57.4 L255.6,57.4 L256.6,57.4 L257.7,57.4 L258.7,57.4 L259.7,57.4 L260.7,57.4 L261.7,57.4 L262.7,57.4 L263.7,57.4 L264.7,57.4 L265.7,57.3 L266.7,57.3 L267.7,57.3 L268.7,57.3 L269.7,57.3 L270.7,57.3 L271.7,57.3 L272.7,57.3 L273.7,57.3 L274.7,57.3 L275.7,57.3 L276.7,57.3 L277.7,57.3 L278.7,57.3 L279.7,57.3 L280.7,57.3 L281.7,57.3 L282.7,57.3 L283.8,57.3 L284.8,57.3 L285.8,57.3 L286.8,57.3 L287.8,57.3 L288.8,57.3 L289.8,57.3 L290.8,57.3 L291.8,57.3 L292.8,57.3 L293.8,57.3 L294.8,57.3 L295.8,57.3 L296.8,57.3 L297.8,57.3 L298.8,57.3 L299.8,57.3 L300.8,57.3 L301.8,57.3 L302.8,57.3 L303.8,57.3 L304.8,57.3 L305.8,57.3 L306.8,57.3 L307.8,57.3 L308.8,57.3 L309.9,57.3 L310.9,57.3 L311.9,57.3 L312.9,57.3 L313.9,57.3 L314.9,57.3 L315.9,57.3 L316.9,57.3 L317.9,57.3 L318.9,57.3 L319.9,57.3 L320.9,57.3 L321.9,57.3 L322.9,57.3 L323.9,57.3 L324.9,57.3 L325.9,57.3 L326.9,57.3 L327.9,57.3 L328.9,57.3 L329.9,57.3 L330.9,57.3 L331.9,57.3 L332.9,57.3 L333.9,57.3 L334.9,57.3 L336.0,57.3 L337.0,57.3 L338.0,57.3 L339.0,57.3 L340.0,57.3 L341.0,57.3 L342.0,57.3 L343.0,57.3 L344.0,57.3 L345.0,57.3 L346.0,57.3 L347.0,57.3 L348.0,57.3" fill="none" stroke="#1a1a1a" stroke-width="1.2" stroke-linejoin="round"/>
<path d="M130.3,63.4 L131.3,63.2 L132.3,63.1 L133.3,63.0 L134.3,62.9 L135.3,62.8 L136.3,62.7 L137.3,62.6 L138.3,62.5 L139.3,62.4 L140.3,62.3 L141.3,62.2 L142.3,62.1 L143.3,62.0 L144.3,61.9 L145.3,61.8 L146.3,61.7 L147.3,61.6 L148.3,61.5 L149.3,61.4 L150.3,61.4 L151.3,61.3 L152.3,61.2 L153.3,61.1 L154.3,61.0 L155.3,60.9 L156.3,60.9 L157.3,60.8 L158.3,60.7 L159.3,60.6 L160.3,60.6 L161.3,60.5 L162.3,60.4 L163.3,60.3 L164.3,60.3 L165.3,60.2 L166.3,60.1 L167.3,60.1 L168.3,60.0 L169.4,59.9 L170.4,59.8 L171.4,59.8 L172.4,59.7 L173.4,59.6 L174.4,59.6 L175.4,59.5 L176.4,59.4 L177.4,59.4 L178.4,59.3 L179.4,59.3 L180.4,59.2 L181.4,59.1 L182.4,59.1 L183.4,59.0 L184.4,59.0 L185.4,58.9 L186.4,58.8 L187.4,58.8 L188.4,58.7 L189.4,58.7 L190.4,58.6 L191.4,58.6 L192.4,58.5 L193.4,58.5 L194.4,58.4 L195.4,58.4 L196.4,58.3 L197.4,58.3 L198.4,58.2 L199.4,58.2 L200.4,58.2 L201.4,58.1 L202.4,58.1 L203.5,58.0 L204.5,58.0 L205.5,57.9 L206.5,57.9 L207.5,57.8 L208.5,57.8 L209.5,57.8 L210.5,57.7 L211.5,57.7 L212.5,57.6 L213.5,57.6 L214.5,57.6 L215.5,57.5 L216.5,57.5 L217.5,57.4 L218.5,57.4 L219.5,57.4 L220.5,57.4 L221.5,57.3 L222.5,57.3 L223.5,57.3 L224.5,57.3 L225.5,57.2 L226.5,57.2 L227.5,57.2 L228.5,57.2 L229.5,57.1 L230.5,57.1 L231.6,57.1 L232.6,57.1 L233.6,57.0 L234.6,57.0 L235.6,57.0 L236.6,57.0 L237.6,57.0 L238.6,56.9 L239.6,56.9 L240.6,56.9 L241.6,56.9 L242.6,56.9 L243.6,56.9 L244.6,56.8 L245.6,56.8 L246.6,56.8 L247.6,56.8 L248.6,56.8 L249.6,56.8 L250.6,56.8 L251.6,56.8 L252.6,56.7 L253.6,56.7 L254.6,56.7 L255.6,56.7 L256.6,56.7 L257.7,56.7 L258.7,56.7 L259.7,56.7 L260.7,56.7 L261.7,56.7 L262.7,56.7 L263.7,56.7 L264.7,56.7 L265.7,56.6 L266.7,56.6 L267.7,56.6 L268.7,56.6 L269.7,56.6 L270.7,56.6 L271.7,56.6 L272.7,56.6 L273.7,56.6 L274.7,56.6 L275.7,56.6 L276.7,56.6 L277.7,56.6 L278.7,56.6 L279.7,56.6 L280.7,56.6 L281.7,56.6 L282.7,56.6 L283.8,56.6 L284.8,56.6 L285.8,56.6 L286.8,56.6 L287.8,56.6 L288.8,56.6 L289.8,56.6 L290.8,56.6 L291.8,56.6 L292.8,56.6 L293.8,56.6 L294.8,56.6 L295.8,56.6 L296.8,56.6 L297.8,56.6 L298.8,56.6 L299.8,56.6 L300.8,56.6 L301.8,56.6 L302.8,56.6 L303.8,56.6 L304.8,56.6 L305.8,56.6 L306.8,56.6 L307.8,56.6 L308.8,56.6 L309.9,56.6 L310.9,56.6 L311.9,56.6 L312.9,56.6 L313.9,56.6 L314.9,56.6 L315.9,56.6 L316.9,56.6 L317.9,56.6 L318.9,56.6 L319.9,56.6 L320.9,56.6 L321.9,56.6 L322.9,56.6 L323.9,56.6 L324.9,56.6 L325.9,56.6 L326.9,56.6 L327.9,56.6 L328.9,56.6 L329.9,56.6 L330.9,56.6 L331.9,56.6 L332.9,56.6 L333.9,56.6 L334.9,56.6 L336.0,56.6 L337.0,56.6 L338.0,56.6 L339.0,56.6 L340.0,56.6 L341.0,56.6 L342.0,56.6 L343.0,56.6 L344.0,56.6 L345.0,56.6 L346.0,56.6 L347.0,56.6 L348.0,56.6" fill="none" stroke="#ff0000" stroke-width="1.2" stroke-linejoin="round"/>
<path d="M55.0,238.0 L55.0,237.0 L55.0,236.0 L55.1,235.0 L55.1,234.0 L55.1,233.0 L55.1,232.0 L55.2,231.0 L55.2,230.0 L55.2,229.0 L55.2,228.0 L55.3,227.0 L55.3,226.0 L55.3,225.0 L55.3,223.9 L55.3,222.9 L55.4,221.9 L55.4,220.9 L55.4,219.9 L55.4,218.9 L55.5,217.9 L55.5,216.9 L55.5,215.9 L55.5,214.9 L55.5,213.9 L55.6,212.9 L55.6,211.9 L55.6,210.9 L55.6,209.9 L55.6,208.9 L55.7,207.9 L55.7,206.9 L55.7,205.9 L55.7,204.9 L55.7,203.9 L55.8,202.9 L55.8,201.9 L55.8,200.9 L55.8,199.9 L55.8,198.9 L55.8,197.9 L55.8,196.8 L55.9,195.8 L55.9,194.8 L55.9,193.8 L55.9,192.8 L55.9,191.8 L55.9,190.8 L55.9,189.8 L55.9,188.8 L55.9,187.8 L55.9,186.8 L56.0,185.8 L56.0,184.8 L56.0,183.8 L56.0,182.8 L56.0,181.8 L56.0,180.8 L56.0,179.8 L56.0,178.8 L56.0,177.8 L56.0,176.8 L56.1,175.8 L56.1,174.8 L56.1,173.8 L56.1,172.8 L56.1,171.8 L56.1,170.7 L56.1,169.7 L56.1,168.7 L56.2,167.7 L56.2,166.7 L56.2,165.7 L56.2,164.7 L56.2,163.7 L56.2,162.7 L56.3,161.7 L56.3,160.7 L56.3,159.7 L56.4,158.7 L56.4,157.7 L56.4,156.7 L56.4,155.7 L56.5,154.7 L56.5,153.7 L56.6,152.7 L56.6,151.7 L56.6,150.7 L56.7,149.7 L56.7,148.7 L56.8,147.7 L56.8,146.7 L56.8,145.7 L56.9,144.7 L56.9,143.7 L57.0,142.7 L57.0,141.7 L57.1,140.7 L57.1,139.6 L57.2,138.6 L57.2,137.6 L57.3,136.6 L57.3,135.6 L57.4,134.6 L57.4,133.6 L57.5,132.6 L57.5,131.6 L57.6,130.6 L57.6,129.6 L57.7,128.6 L57.8,127.6 L57.8,126.6 L57.9,125.6 L58.0,124.6 L58.0,123.6 L58.1,122.6 L58.2,121.6 L58.3,120.6 L58.4,119.6 L58.4,118.6 L58.5,117.6 L58.6,116.6 L58.8,115.6 L58.9,114.6 L59.0,113.6 L59.2,112.6 L59.4,111.6 L59.5,110.7 L59.7,109.7 L59.9,108.7 L60.0,107.7 L60.2,106.7 L60.3,105.7 L60.5,104.7 L60.7,103.7 L60.8,102.7 L61.0,101.7 L61.2,100.8 L61.5,99.8 L61.7,98.8 L62.0,97.8 L62.3,96.9 L62.6,95.9 L62.9,95.0 L63.3,94.0 L63.7,93.1 L64.1,92.2 L64.5,91.3 L65.0,90.4 L65.5,89.5 L66.0,88.7 L66.6,87.8 L67.2,87.0 L67.8,86.2 L68.4,85.5 L69.1,84.7 L69.8,84.0 L70.5,83.2 L71.2,82.5 L71.9,81.8 L72.7,81.2 L73.4,80.5 L74.2,79.9 L75.0,79.3 L75.8,78.7 L76.6,78.1 L77.5,77.6 L78.3,77.0 L79.2,76.5 L80.1,76.0 L80.9,75.5 L81.8,75.0 L82.7,74.6 L83.6,74.1 L84.5,73.6 L85.4,73.2 L86.3,72.8 L87.2,72.4 L88.2,72.1 L89.1,71.7 L90.1,71.4 L91.0,71.1 L92.0,70.8 L93.0,70.5 L93.9,70.2 L94.9,69.9 L95.8,69.6 L96.8,69.3 L97.7,69.0 L98.7,68.7 L99.6,68.4 L100.6,68.1 L101.6,67.8 L102.5,67.6 L103.5,67.3 L104.5,67.1 L105.5,66.8 L106.5,66.6 L107.4,66.4 L108.4,66.3 L109.4,66.1 L110.4,65.9 L111.4,65.8 L112.4,65.6 L113.4,65.5 L114.4,65.3 L115.4,65.2 L116.4,65.1 L117.4,64.9 L118.4,64.8 L119.4,64.7 L120.3,64.5 L121.3,64.4 L122.3,64.3 L123.3,64.2 L124.3,64.0 L125.3,63.9 L126.3,63.8 L127.3,63.7 L128.3,63.6 L129.3,63.5 L130.3,63.4 L131.3,63.2 L132.3,63.1 L133.3,63.0 L134.3,62.9 L135.3,62.8 L136.3,62.7 L137.3,62.6 L138.3,62.5 L139.3,62.4 L140.3,62.3 L141.3,62.2 L142.3,62.1 L143.3,62.0 L144.3,62.0 L145.3,61.9 L146.3,61.8 L147.3,61.7 L148.3,61.7 L149.3,61.6 L150.3,61.5 L151.3,61.5 L152.3,61.4 L153.3,61.3 L154.3,61.3 L155.3,61.2 L156.3,61.1 L157.3,61.1 L158.3,61.0 L159.3,61.0 L160.3,60.9 L161.3,60.9 L162.3,60.8 L163.3,60.7 L164.3,60.7 L165.3,60.6 L166.3,60.6 L167.3,60.5 L168.3,60.5 L169.4,60.4 L170.4,60.4 L171.4,60.3 L172.4,60.3 L173.4,60.2 L174.4,60.2 L175.4,60.1 L176.4,60.1 L177.4,60.0 L178.4,60.0 L179.4,59.9 L180.4,59.9 L181.4,59.8 L182.4,59.8 L183.4,59.7 L184.4,59.7 L185.4,59.6 L186.4,59.6 L187.4,59.5 L188.4,59.5 L189.4,59.4 L190.4,59.4 L191.4,59.4 L192.4,59.3 L193.4,59.3 L194.4,59.2 L195.4,59.2 L196.4,59.2 L197.4,59.1 L198.4,59.1 L199.4,59.1 L200.4,59.0 L201.4,59.0 L202.4,59.0 L203.5,58.9 L204.5,58.9 L205.5,58.9 L206.5,58.8 L207.5,58.8 L208.5,58.8 L209.5,58.7 L210.5,58.7 L211.5,58.7 L212.5,58.7 L213.5,58.6 L214.5,58.6 L215.5,58.6 L216.5,58.5 L217.5,58.5 L218.5,58.5 L219.5,58.5 L220.5,58.5 L221.5,58.4 L222.5,58.4 L223.5,58.4 L224.5,58.4 L225.5,58.4 L226.5,58.4 L227.5,58.3 L228.5,58.3 L229.5,58.3 L230.5,58.3 L231.6,58.3 L232.6,58.3 L233.6,58.3 L234.6,58.2 L235.6,58.2 L236.6,58.2 L237.6,58.2 L238.6,58.2 L239.6,58.2 L240.6,58.2 L241.6,58.2 L242.6,58.1 L243.6,58.1 L244.6,58.1 L245.6,58.1 L246.6,58.1 L247.6,58.1 L248.6,58.1 L249.6,58.1 L250.6,58.1 L251.6,58.1 L252.6,58.1 L253.6,58.1 L254.6,58.1 L255.6,58.1 L256.6,58.1 L257.7,58.1 L258.7,58.1 L259.7,58.1 L260.7,58.1 L261.7,58.1 L262.7,58.1 L263.7,58.1 L264.7,58.1 L265.7,58.0 L266.7,58.0 L267.7,58.0 L268.7,58.0 L269.7,58.0 L270.7,58.0 L271.7,58.0 L272.7,58.0 L273.7,58.0 L274.7,58.0 L275.7,58.0 L276.7,58.0 L277.7,58.0 L278.7,58.0 L279.7,58.0 L280.7,58.0 L281.7,58.0 L282.7,58.0 L283.8,58.0 L284.8,58.0 L285.8,58.0 L286.8,58.0 L287.8,58.0 L288.8,58.0 L289.8,58.0 L290.8,58.0 L291.8,58.0 L292.8,58.0 L293.8,58.0 L294.8,58.0 L295.8,58.0 L296.8,58.0 L297.8,58.0 L298.8,58.0 L299.8,58.0 L300.8,58.0 L301.8,58.0 L302.8,58.0 L303.8,58.0 L304.8,58.0 L305.8,58.0 L306.8,58.0 L307.8,58.0 L308.8,58.0 L309.9,58.0 L310.9,58.0 L311.9,58.0 L312.9,58.0 L313.9,58.0 L314.9,58.0 L315.9,58.0 L316.9,58.0 L317.9,58.0 L318.9,58.0 L319.9,58.0 L320.9,58.0 L321.9,58.0 L322.9,58.0 L323.9,58.0 L324.9,58.0 L325.9,58.0 L326.9,58.0 L327.9,58.0 L328.9,58.0 L329.9,58.0 L330.9,58.0 L331.9,58.0 L332.9,58.0 L333.9,58.0 L334.9,58.0 L336.0,58.0 L337.0,58.0 L338.0,58.0 L339.0,58.0 L340.0,58.0 L341.0,58.0 L342.0,58.0 L343.0,58.0 L344.0,58.0 L345.0,58.0 L346.0,58.0 L347.0,58.0 L348.0,58.0" fill="none" stroke="#0000ff" stroke-width="1.2" stroke-linejoin="round"/>
<path d="M423.0,113.5 L423.0,112.5 L423.0,111.5 L423.0,110.5 L423.0,109.5 L423.0,108.5 L423.0,107.5 L423.0,106.5 L423.1,105.5 L423.1,104.5 L423.1,103.5 L423.1,102.5 L423.1,101.5 L423.1,100.5 L423.1,99.5 L423.1,98.5 L423.2,97.5 L423.2,96.5 L423.2,95.5 L423.2,94.5 L423.2,93.5 L423.3,92.5 L423.3,91.5 L423.3,90.5 L423.3,89.5 L423.4,88.5 L423.4,87.5 L423.4,86.5 L423.4,85.4 L423.5,84.4 L423.5,83.4 L423.5,82.4 L423.6,81.4 L423.6,80.4 L423.6,79.4 L423.7,78.4 L423.7,77.4 L423.8,76.4 L423.8,75.4 L423.9,74.4 L423.9,73.4 L424.0,72.4 L424.1,71.4 L424.1,70.4 L424.2,69.4 L424.3,68.4 L424.4,67.4 L424.4,66.4 L424.5,65.4 L424.6,64.4 L424.7,63.4 L424.8,62.4 L424.8,61.4 L424.9,60.4 L425.0,59.4 L425.1,58.4 L425.3,57.4 L425.4,56.4 L425.5,55.4 L425.7,54.4 L425.8,53.5 L426.0,52.5 L426.2,51.5 L426.4,50.5 L426.6,49.5 L426.9,48.6 L427.3,47.6 L427.6,46.7 L428.1,45.8 L428.5,44.9 L429.1,44.1 L429.8,43.3 L430.5,42.6 L431.2,41.9 L432.0,41.4 L432.9,40.9 L433.9,40.5 L434.8,40.1 L435.7,39.7 L436.7,39.4 L437.6,39.2 L438.6,38.9 L439.6,38.7 L440.6,38.5 L441.6,38.3 L442.6,38.1 L443.5,37.9 L444.5,37.8 L445.5,37.6 L446.5,37.5 L447.5,37.3 L448.5,37.2 L449.5,37.1 L450.5,36.9 L451.5,36.8 L452.5,36.7 L453.5,36.6 L454.5,36.4 L455.5,36.3 L456.5,36.2 L457.5,36.1 L458.5,36.0 L459.5,35.9 L460.4,35.7 L461.4,35.6 L462.4,35.5 L463.4,35.4 L464.4,35.3 L465.4,35.2 L466.4,35.0 L467.4,34.9 L468.4,34.8 L469.4,34.7 L470.4,34.7 L471.4,34.6 L472.4,34.5 L473.4,34.5 L474.4,34.4 L475.4,34.3 L476.4,34.3 L477.4,34.2 L478.4,34.2 L479.4,34.1 L480.4,34.1 L481.4,34.0 L482.4,34.0 L483.4,33.9 L484.4,33.9 L485.4,33.8 L486.4,33.8 L487.4,33.7 L488.4,33.7 L489.4,33.6 L490.4,33.6 L491.4,33.5 L492.4,33.5 L493.4,33.4 L494.4,33.4 L495.4,33.4 L496.4,33.3 L497.5,33.3 L498.5,33.3 L499.5,33.2 L500.5,33.2 L501.5,33.2 L502.5,33.1 L503.5,33.1 L504.5,33.1 L505.5,33.0 L506.5,33.0 L507.5,33.0 L508.5,33.0 L509.5,32.9 L510.5,32.9 L511.5,32.9 L512.5,32.9 L513.5,32.8 L514.5,32.8 L515.5,32.8 L516.5,32.8 L517.5,32.8 L518.5,32.7 L519.5,32.7 L520.5,32.7 L521.5,32.7 L522.5,32.6 L523.5,32.6 L524.5,32.6 L525.5,32.6 L526.5,32.6 L527.5,32.5 L528.5,32.5 L529.5,32.5 L530.5,32.5 L531.5,32.5 L532.5,32.5 L533.5,32.4 L534.5,32.4 L535.5,32.4 L536.5,32.4 L537.5,32.4 L538.5,32.3 L539.5,32.3 L540.6,32.3 L541.6,32.3 L542.6,32.3 L543.6,32.2 L544.6,32.2 L545.6,32.2 L546.6,32.2 L547.6,32.2 L548.6,32.2 L549.6,32.1 L550.6,32.1 L551.6,32.1 L552.6,32.1 L553.6,32.1 L554.6,32.1 L555.6,32.0 L556.6,32.0 L557.6,32.0 L558.6,32.0 L559.6,32.0 L560.6,32.0 L561.6,32.0 L562.6,32.0 L563.6,32.0 L564.6,32.0 L565.6,32.0 L566.6,31.9 L567.6,31.9 L568.6,31.9 L569.6,31.9 L570.6,31.9 L571.6,31.9 L572.6,31.9 L573.6,31.9 L574.6,31.9 L575.6,31.9 L576.6,31.9 L577.6,31.9 L578.6,31.9 L579.6,31.9 L580.7,31.9 L581.7,31.9 L582.7,31.9 L583.7,31.8 L584.7,31.8 L585.7,31.8 L586.7,31.8 L587.7,31.8 L588.7,31.8 L589.7,31.8 L590.7,31.8 L591.7,31.8 L592.7,31.8 L593.7,31.8 L594.7,31.7 L595.7,31.7 L596.7,31.7 L597.7,31.7 L598.7,31.7 L599.7,31.7 L600.7,31.7 L601.7,31.7 L602.7,31.6 L603.7,31.6 L604.7,31.6 L605.7,31.6 L606.7,31.6 L607.7,31.6 L608.7,31.6 L609.7,31.6 L610.7,31.6 L611.7,31.6 L612.7,31.6 L613.7,31.6 L614.7,31.6 L615.7,31.6 L616.7,31.6 L617.7,31.6 L618.7,31.6 L619.8,31.6 L620.8,31.6 L621.8,31.6 L622.8,31.6 L623.8,31.6 L624.8,31.6 L625.8,31.6 L626.8,31.6 L627.8,31.6 L628.8,31.6 L629.8,31.6 L630.8,31.6 L631.8,31.6 L632.8,31.6 L633.8,31.6 L634.8,31.6 L635.8,31.6 L636.8,31.6 L637.8,31.6 L638.8,31.6 L639.8,31.6 L640.8,31.6 L641.8,31.6 L642.8,31.6 L643.8,31.6 L644.8,31.6 L645.8,31.6 L646.8,31.6 L647.8,31.6 L648.8,31.6 L649.8,31.6 L650.8,31.6 L651.8,31.6 L652.8,31.6 L653.8,31.6 L654.8,31.6 L655.8,31.6 L656.8,31.6 L657.8,31.6 L658.9,31.6 L659.9,31.6 L660.9,31.6 L661.9,31.6 L662.9,31.6 L663.9,31.6 L664.9,31.6 L665.9,31.6 L666.9,31.6 L667.9,31.6 L668.9,31.6 L669.9,31.6 L670.9,31.6 L671.9,31.6 L672.9,31.6 L673.9,31.6 L674.9,31.6 L675.9,31.6 L676.9,31.6 L677.9,31.6 L678.9,31.6 L679.9,31.6 L680.9,31.6 L681.9,31.6 L682.9,31.6 L683.9,31.6 L684.9,31.6 L685.9,31.6 L686.9,31.6 L687.9,31.6 L688.9,31.6 L689.9,31.6 L690.9,31.6 L691.9,31.6 L692.9,31.6 L693.9,31.6 L694.9,31.6 L695.9,31.6 L697.0,31.6 L698.0,31.6 L699.0,31.6 L700.0,31.6 L701.0,31.6 L702.0,31.6 L703.0,31.6 L704.0,31.6 L705.0,31.6 L706.0,31.6 L707.0,31.6 L708.0,31.6 L709.0,31.6 L710.0,31.6 L711.0,31.6 L712.0,31.6 L713.0,31.6 L714.0,31.6 L715.0,31.6 L716.0,31.6" fill="none" stroke="#ff0000" stroke-width="1.2" stroke-linejoin="round"/>
<path d="M423.8,123.3 L423.8,122.3 L423.8,121.3 L423.9,120.3 L423.9,119.3 L424.0,118.3 L424.0,117.3 L424.0,116.3 L424.1,115.3 L424.1,114.3 L424.2,113.3 L424.2,112.3 L424.2,111.2 L424.3,110.2 L424.3,109.2 L424.4,108.2 L424.4,107.2 L424.5,106.2 L424.6,105.2 L424.6,104.2 L424.7,103.2 L424.8,102.2 L424.9,101.2 L425.0,100.3 L425.1,99.3 L425.3,98.3 L425.5,97.3 L425.7,96.3 L426.0,95.4 L426.4,94.4 L426.7,93.4 L427.0,92.5 L427.4,91.6 L427.8,90.6 L428.2,89.7 L428.6,88.8 L429.1,87.9 L429.7,87.0 L430.3,86.3 L431.0,85.6 L431.8,84.9 L432.6,84.3 L433.5,83.9 L434.4,83.4 L435.3,83.0 L436.3,82.7 L437.2,82.4 L438.2,82.1 L439.1,81.9 L440.1,81.6 L441.1,81.4 L442.1,81.2 L443.1,81.1 L444.1,80.9 L445.1,80.7 L446.1,80.6 L447.1,80.4 L448.0,80.3 L449.0,80.1 L450.0,80.0 L451.0,79.9 L452.0,79.8 L453.0,79.7 L454.0,79.6 L455.0,79.5 L456.0,79.4 L457.0,79.3 L458.0,79.2 L459.0,79.2 L460.0,79.1 L461.0,79.0 L462.0,79.0 L463.0,78.9 L464.0,78.8 L465.0,78.8 L466.0,78.7 L467.0,78.6 L468.1,78.6 L469.1,78.5 L470.1,78.5 L471.1,78.5 L472.1,78.4 L473.1,78.4 L474.1,78.4 L475.1,78.3 L476.1,78.3 L477.1,78.3 L478.1,78.3 L479.1,78.2 L480.1,78.2 L481.1,78.2 L482.1,78.1 L483.1,78.1 L484.1,78.1 L485.1,78.0 L486.1,78.0 L487.1,78.0 L488.1,77.9 L489.1,77.9 L490.1,77.9 L491.1,77.9 L492.1,77.8 L493.1,77.8 L494.1,77.8 L495.1,77.7 L496.1,77.7 L497.2,77.7 L498.2,77.6 L499.2,77.6 L500.2,77.6 L501.2,77.6 L502.2,77.5 L503.2,77.5 L504.2,77.5 L505.2,77.5 L506.2,77.5 L507.2,77.4 L508.2,77.4 L509.2,77.4 L510.2,77.4 L511.2,77.4 L512.2,77.3 L513.2,77.3 L514.2,77.3 L515.2,77.3 L516.2,77.3 L517.2,77.2 L518.2,77.2 L519.2,77.2 L520.2,77.2 L521.2,77.2 L522.2,77.1 L523.2,77.1 L524.3,77.1 L525.3,77.1 L526.3,77.1 L527.3,77.0 L528.3,77.0 L529.3,77.0 L530.3,77.0 L531.3,77.0 L532.3,77.0 L533.3,76.9 L534.3,76.9 L535.3,76.9 L536.3,76.9 L537.3,76.9 L538.3,76.8 L539.3,76.8 L540.3,76.8 L541.3,76.8 L542.3,76.8 L543.3,76.8 L544.3,76.7 L545.3,76.7 L546.3,76.7 L547.3,76.7 L548.3,76.7 L549.3,76.7 L550.4,76.6 L551.4,76.6 L552.4,76.6 L553.4,76.6 L554.4,76.6 L555.4,76.6 L556.4,76.5 L557.4,76.5 L558.4,76.5 L559.4,76.5 L560.4,76.5 L561.4,76.5 L562.4,76.5 L563.4,76.5 L564.4,76.4 L565.4,76.4 L566.4,76.4 L567.4,76.4 L568.4,76.4 L569.4,76.4 L570.4,76.4 L571.4,76.3 L572.4,76.3 L573.4,76.3 L574.4,76.3 L575.4,76.3 L576.5,76.3 L577.5,76.3 L578.5,76.3 L579.5,76.3 L580.5,76.2 L581.5,76.2 L582.5,76.2 L583.5,76.2 L584.5,76.2 L585.5,76.2 L586.5,76.2 L587.5,76.2 L588.5,76.2 L589.5,76.2 L590.5,76.2 L591.5,76.2 L592.5,76.2 L593.5,76.2 L594.5,76.2 L595.5,76.2 L596.5,76.2 L597.5,76.2 L598.5,76.2 L599.5,76.2 L600.5,76.2 L601.5,76.2 L602.6,76.2 L603.6,76.2 L604.6,76.2 L605.6,76.2 L606.6,76.2 L607.6,76.2 L608.6,76.2 L609.6,76.2 L610.6,76.2 L611.6,76.2 L612.6,76.2 L613.6,76.2 L614.6,76.2 L615.6,76.2 L616.6,76.2 L617.6,76.2 L618.6,76.2 L619.6,76.2 L620.6,76.2 L621.6,76.2 L622.6,76.2 L623.6,76.2 L624.6,76.2 L625.6,76.2 L626.6,76.2 L627.7,76.2 L628.7,76.2 L629.7,76.2 L630.7,76.2 L631.7,76.2 L632.7,76.2 L633.7,76.2 L634.7,76.2 L635.7,76.2 L636.7,76.2 L637.7,76.2 L638.7,76.2 L639.7,76.2 L640.7,76.2 L641.7,76.2 L642.7,76.2 L643.7,76.2 L644.7,76.2 L645.7,76.2 L646.7,76.2 L647.7,76.2 L648.7,76.2 L649.7,76.2 L650.7,76.2 L651.7,76.2 L652.8,76.2 L653.8,76.2 L654.8,76.2 L655.8,76.2 L656.8,76.2 L657.8,76.2 L658.8,76.2 L659.8,76.2 L660.8,76.2 L661.8,76.2 L662.8,76.2 L663.8,76.2 L664.8,76.2 L665.8,76.2 L666.8,76.2 L667.8,76.2 L668.8,76.2 L669.8,76.2 L670.8,76.2 L671.8,76.2 L672.8,76.2 L673.8,76.2 L674.8,76.2 L675.8,76.2 L676.8,76.2 L677.8,76.2 L678.9,76.2 L679.9,76.2 L680.9,76.2 L681.9,76.2 L682.9,76.2 L683.9,76.2 L684.9,76.2 L685.9,76.2 L686.9,76.2 L687.9,76.2 L688.9,76.2 L689.9,76.2 L690.9,76.2 L691.9,76.2 L692.9,76.2 L693.9,76.2 L694.9,76.2 L695.9,76.2 L696.9,76.2 L697.9,76.2 L698.9,76.2 L699.9,76.2 L700.9,76.2 L701.9,76.2 L702.9,76.2 L704.0,76.2 L705.0,76.2 L706.0,76.2 L707.0,76.2 L708.0,76.2 L709.0,76.2 L710.0,76.2 L711.0,76.2 L712.0,76.2 L713.0,76.2 L714.0,76.2 L715.0,76.2 L716.0,76.2" fill="none" stroke="#1a1a1a" stroke-width="1.2" stroke-linejoin="round"/>
<path d="M423.1,199.6 L423.1,198.6 L423.1,197.6 L423.1,196.6 L423.2,195.6 L423.2,194.6 L423.2,193.6 L423.2,192.6 L423.2,191.6 L423.2,190.6 L423.2,189.6 L423.3,188.5 L423.3,187.5 L423.3,186.5 L423.3,185.5 L423.3,184.5 L423.4,183.5 L423.4,182.5 L423.4,181.5 L423.4,180.5 L423.4,179.5 L423.5,178.5 L423.5,177.5 L423.5,176.5 L423.5,175.5 L423.6,174.5 L423.6,173.5 L423.6,172.5 L423.7,171.5 L423.7,170.5 L423.7,169.5 L423.8,168.5 L423.8,167.5 L423.8,166.5 L423.9,165.5 L424.0,164.5 L424.0,163.5 L424.1,162.5 L424.1,161.5 L424.2,160.5 L424.3,159.5 L424.3,158.4 L424.4,157.4 L424.5,156.4 L424.6,155.4 L424.6,154.4 L424.7,153.4 L424.8,152.4 L424.9,151.4 L424.9,150.4 L425.0,149.4 L425.1,148.4 L425.2,147.4 L425.3,146.4 L425.4,145.4 L425.6,144.4 L425.7,143.4 L425.9,142.4 L426.1,141.4 L426.3,140.5 L426.6,139.5 L426.8,138.5 L427.1,137.6 L427.6,136.7 L428.1,135.8 L428.7,135.0 L429.2,134.2 L429.9,133.4 L430.6,132.7 L431.4,132.0 L432.1,131.4 L432.9,130.8 L433.8,130.2 L434.7,129.7 L435.5,129.2 L436.4,128.8 L437.4,128.4 L438.3,128.0 L439.3,127.7 L440.2,127.4 L441.2,127.2 L442.2,126.9 L443.1,126.7 L444.1,126.5 L445.1,126.3 L446.1,126.1 L447.1,126.0 L448.1,125.8 L449.1,125.6 L450.1,125.5 L451.1,125.3 L452.1,125.2 L453.1,125.1 L454.1,125.0 L455.1,124.8 L456.1,124.7 L457.0,124.6 L458.0,124.5 L459.0,124.4 L460.0,124.3 L461.0,124.2 L462.0,124.1 L463.0,124.0 L464.0,123.9 L465.0,123.8 L466.0,123.7 L467.0,123.6 L468.0,123.6 L469.0,123.5 L470.0,123.4 L471.0,123.3 L472.0,123.2 L473.0,123.2 L474.1,123.1 L475.1,123.0 L476.1,122.9 L477.1,122.9 L478.1,122.8 L479.1,122.7 L480.1,122.7 L481.1,122.6 L482.1,122.6 L483.1,122.6 L484.1,122.5 L485.1,122.5 L486.1,122.4 L487.1,122.4 L488.1,122.4 L489.1,122.3 L490.1,122.3 L491.1,122.3 L492.1,122.2 L493.1,122.2 L494.1,122.2 L495.1,122.2 L496.1,122.1 L497.1,122.1 L498.1,122.1 L499.1,122.0 L500.1,122.0 L501.1,122.0 L502.1,121.9 L503.1,121.9 L504.1,121.9 L505.2,121.8 L506.2,121.8 L507.2,121.8 L508.2,121.7 L509.2,121.7 L510.2,121.7 L511.2,121.6 L512.2,121.6 L513.2,121.6 L514.2,121.5 L515.2,121.5 L516.2,121.5 L517.2,121.4 L518.2,121.4 L519.2,121.4 L520.2,121.4 L521.2,121.3 L522.2,121.3 L523.2,121.3 L524.2,121.2 L525.2,121.2 L526.2,121.2 L527.2,121.2 L528.2,121.1 L529.2,121.1 L530.2,121.1 L531.2,121.1 L532.3,121.1 L533.3,121.0 L534.3,121.0 L535.3,121.0 L536.3,121.0 L537.3,121.0 L538.3,120.9 L539.3,120.9 L540.3,120.9 L541.3,120.9 L542.3,120.9 L543.3,120.8 L544.3,120.8 L545.3,120.8 L546.3,120.8 L547.3,120.8 L548.3,120.8 L549.3,120.7 L550.3,120.7 L551.3,120.7 L552.3,120.7 L553.3,120.7 L554.3,120.7 L555.3,120.7 L556.3,120.6 L557.4,120.6 L558.4,120.6 L559.4,120.6 L560.4,120.6 L561.4,120.6 L562.4,120.6 L563.4,120.6 L564.4,120.5 L565.4,120.5 L566.4,120.5 L567.4,120.5 L568.4,120.5 L569.4,120.5 L570.4,120.5 L571.4,120.4 L572.4,120.4 L573.4,120.4 L574.4,120.4 L575.4,120.4 L576.4,120.4 L577.4,120.4 L578.4,120.4 L579.4,120.4 L580.4,120.3 L581.4,120.3 L582.5,120.3 L583.5,120.3 L584.5,120.3 L585.5,120.3 L586.5,120.3 L587.5,120.3 L588.5,120.3 L589.5,120.3 L590.5,120.3 L591.5,120.3 L592.5,120.3 L593.5,120.3 L594.5,120.3 L595.5,120.3 L596.5,120.3 L597.5,120.3 L598.5,120.3 L599.5,120.3 L600.5,120.3 L601.5,120.3 L602.5,120.3 L603.5,120.3 L604.5,120.3 L605.5,120.3 L606.6,120.3 L607.6,120.3 L608.6,120.3 L609.6,120.3 L610.6,120.3 L611.6,120.3 L612.6,120.3 L613.6,120.3 L614.6,120.3 L615.6,120.3 L616.6,120.3 L617.6,120.3 L618.6,120.3 L619.6,120.3 L620.6,120.3 L621.6,120.3 L622.6,120.3 L623.6,120.3 L624.6,120.3 L625.6,120.3 L626.6,120.3 L627.6,120.3 L628.6,120.3 L629.6,120.3 L630.6,120.3 L631.7,120.3 L632.7,120.3 L633.7,120.3 L634.7,120.3 L635.7,120.3 L636.7,120.3 L637.7,120.3 L638.7,120.3 L639.7,120.3 L640.7,120.3 L641.7,120.3 L642.7,120.3 L643.7,120.3 L644.7,120.3 L645.7,120.3 L646.7,120.3 L647.7,120.3 L648.7,120.3 L649.7,120.3 L650.7,120.3 L651.7,120.3 L652.7,120.3 L653.7,120.3 L654.7,120.3 L655.8,120.3 L656.8,120.3 L657.8,120.3 L658.8,120.3 L659.8,120.3 L660.8,120.3 L661.8,120.3 L662.8,120.3 L663.8,120.3 L664.8,120.3 L665.8,120.3 L666.8,120.3 L667.8,120.3 L668.8,120.3 L669.8,120.3 L670.8,120.3 L671.8,120.3 L672.8,120.3 L673.8,120.3 L674.8,120.3 L675.8,120.3 L676.8,120.3 L677.8,120.3 L678.8,120.3 L679.9,120.3 L680.9,120.3 L681.9,120.3 L682.9,120.3 L683.9,120.3 L684.9,120.3 L685.9,120.3 L686.9,120.3 L687.9,120.3 L688.9,120.3 L689.9,120.3 L690.9,120.3 L691.9,120.3 L692.9,120.3 L693.9,120.3 L694.9,120.3 L695.9,120.3 L696.9,120.3 L697.9,120.3 L698.9,120.3 L699.9,120.3 L700.9,120.3 L701.9,120.3 L702.9,120.3 L704.0,120.3 L705.0,120.3 L706.0,120.3 L707.0,120.3 L708.0,120.3 L709.0,120.3 L710.0,120.3 L711.0,120.3 L712.0,120.3 L713.0,120.3 L714.0,120.3 L715.0,120.3 L716.0,120.3" fill="none" stroke="#0000ff" stroke-width="1.2" stroke-linejoin="round"/>
<path d="M424.3,299.0 L424.3,298.5 L424.3,298.0 L424.3,297.5 L424.3,297.0 L424.3,296.5 L424.3,296.0 L424.3,295.5 L424.4,295.0 L424.4,294.5 L424.4,294.0 L424.4,293.5 L424.4,293.0 L424.4,292.5 L424.4,292.0 L424.4,291.5 L424.4,291.0 L424.4,290.5 L424.4,290.0 L424.4,289.5 L424.4,289.0 L424.4,288.5 L424.4,288.0 L424.4,287.5 L424.5,287.0 L424.5,286.5 L424.5,286.0 L424.5,285.5 L424.5,285.0 L424.5,284.5 L424.5,284.0 L424.5,283.5 L424.5,283.0 L424.5,282.5 L424.5,282.0 L424.5,281.5 L424.5,281.0 L424.5,280.5 L424.5,280.0 L424.6,279.5 L424.6,279.0 L424.6,278.5 L424.6,278.0 L424.6,277.5 L424.6,277.0 L424.6,276.5 L424.6,276.0 L424.6,275.5 L424.6,275.0 L424.6,274.5 L424.6,274.0 L424.6,273.5 L424.6,273.0 L424.6,272.5 L424.6,272.0 L424.7,271.5 L424.7,271.0 L424.7,270.5 L424.7,270.0 L424.7,269.5 L424.7,269.0 L424.7,268.5 L424.7,268.0 L424.7,267.5 L424.7,267.0 L424.7,266.5 L424.7,266.0 L424.7,265.5 L424.7,265.0 L424.7,264.5 L424.7,264.0 L424.8,263.5 L424.8,263.0 L424.8,262.5 L424.8,262.0 L424.8,261.5 L424.8,261.0 L424.8,260.5 L424.8,260.0 L424.8,259.5 L424.8,259.0 L424.8,258.4 L424.8,257.9 L424.8,257.4 L424.8,256.9 L424.8,256.4 L424.8,255.9 L424.9,255.4 L424.9,254.9 L424.9,254.4 L424.9,253.9 L424.9,253.4 L424.9,252.9 L424.9,252.4 L424.9,251.9 L424.9,251.4 L424.9,250.9 L424.9,250.4 L424.9,249.9 L424.9,249.4 L424.9,248.9 L424.9,248.4 L424.9,247.9 L424.9,247.4 L425.0,246.9 L425.0,246.4 L425.0,245.9 L425.0,245.4 L425.0,244.9 L425.0,244.4 L425.0,243.9 L425.0,243.4 L425.0,242.9 L425.0,242.4 L425.0,241.9 L425.0,241.4 L425.0,240.9 L425.0,240.4 L425.0,239.9 L425.0,239.4 L425.0,238.9 L425.0,238.4 L425.1,237.9 L425.1,237.4 L425.1,236.9 L425.1,236.4 L425.1,235.9 L425.1,235.4 L425.1,234.9 L425.1,234.4 L425.1,233.9 L425.1,233.4 L425.1,232.9 L425.1,232.4 L425.1,231.9 L425.1,231.4 L425.1,230.9 L425.1,230.4 L425.1,229.9 L425.2,229.4 L425.2,228.9 L425.2,228.4 L425.2,227.9 L425.2,227.4 L425.2,226.9 L425.2,226.4 L425.2,225.9 L425.2,225.4 L425.2,224.9 L425.2,224.4 L425.2,223.9 L425.2,223.4 L425.3,222.9 L425.3,222.4 L425.3,221.9 L425.3,221.4 L425.3,220.9 L425.3,220.4 L425.3,219.9 L425.3,219.4 L425.3,218.9 L425.3,218.4 L425.3,217.9 L425.3,217.4 L425.4,216.9 L425.4,216.4 L425.4,215.9 L425.4,215.4 L425.4,214.9 L425.4,214.4 L425.4,213.9 L425.4,213.4 L425.4,212.9 L425.5,212.4 L425.5,211.9 L425.5,211.4 L425.5,210.9 L425.5,210.4 L425.5,209.9 L425.5,209.4 L425.5,208.9 L425.5,208.4 L425.6,207.9 L425.6,207.4 L425.6,206.9 L425.6,206.4 L425.6,205.9 L425.6,205.4 L425.6,204.9 L425.7,204.4 L425.7,203.9 L425.7,203.4 L425.7,202.9 L425.7,202.4 L425.7,201.9 L425.7,201.4 L425.7,200.9 L425.8,200.4 L425.8,199.9 L425.8,199.4 L425.8,198.9 L425.8,198.4 L425.8,197.9 L425.9,197.4 L425.9,196.9 L425.9,196.4 L425.9,195.9 L425.9,195.4 L425.9,194.9 L426.0,194.4 L426.0,193.9 L426.0,193.4 L426.0,192.9 L426.0,192.4 L426.0,191.9 L426.1,191.4 L426.1,190.9 L426.1,190.4 L426.1,189.9 L426.1,189.4 L426.1,188.9 L426.2,188.4 L426.2,187.9 L426.2,187.4 L426.2,186.9 L426.2,186.4 L426.3,185.9 L426.3,185.4 L426.3,184.9 L426.3,184.4 L426.3,183.9 L426.4,183.4 L426.4,182.9 L426.4,182.4 L426.4,181.9 L426.5,181.4 L426.5,180.9 L426.5,180.4 L426.5,179.9 L426.6,179.4 L426.6,178.9 L426.6,178.4 L426.6,177.9 L426.7,177.4 L426.7,176.9 L426.7,176.4 L426.8,175.9 L426.8,175.4 L426.8,174.9 L426.8,174.4 L426.9,173.9 L426.9,173.4 L426.9,172.9 L427.0,172.4 L427.0,171.9 L427.0,171.4 L427.1,170.9 L427.1,170.4 L427.1,169.9 L427.2,169.4 L427.2,168.9 L427.2,168.4 L427.3,167.9 L427.3,167.4 L427.4,166.9 L427.4,166.4 L427.4,165.9 L427.5,165.4 L427.5,164.9 L427.5,164.4 L427.6,163.9 L427.6,163.4 L427.6,162.9 L427.7,162.4 L427.7,161.9 L427.7,161.3 L427.7,160.8 L427.8,160.3 L427.8,159.8 L427.8,159.3 L427.9,158.8 L427.9,158.3 L428.0,157.9 L428.0,157.4 L428.1,156.9 L428.3,156.4 L428.5,156.0 L428.7,155.5 L428.9,155.0 L429.1,154.5 L429.4,154.1 L429.6,153.6 L429.9,153.3 L430.3,153.0 L430.7,152.7 L431.2,152.5 L431.7,152.4 L432.1,152.5 L432.6,152.7 L433.0,152.9 L433.5,153.2 L433.9,153.5 L434.3,153.8 L434.7,154.1 L435.1,154.4 L435.5,154.7 L435.9,155.0 L436.3,155.4 L436.6,155.7 L437.0,156.1 L437.4,156.4 L437.8,156.7 L438.1,157.1 L438.5,157.4 L438.9,157.8 L439.3,158.1 L439.6,158.5 L440.0,158.8 L440.3,159.2 L440.5,159.6 L440.8,160.0 L441.0,160.4 L441.3,160.9 L441.5,161.3 L441.7,161.8 L441.9,162.2 L442.1,162.7 L442.3,163.2 L442.5,163.6 L442.7,164.1 L442.9,164.6 L443.1,165.0 L443.4,165.5 L443.6,165.9 L443.9,166.3 L444.1,166.8 L444.4,167.2 L444.6,167.6 L444.9,168.1 L445.2,168.5 L445.5,168.9 L445.7,169.3 L446.0,169.7 L446.3,170.1 L446.6,170.5 L446.9,170.9 L447.3,171.3 L447.6,171.7 L447.9,172.0 L448.3,172.4 L448.6,172.7 L449.0,173.1 L449.4,173.4 L449.7,173.8 L450.1,174.1 L450.5,174.5 L450.8,174.8 L451.2,175.2 L451.5,175.5 L451.9,175.9 L452.2,176.2 L453.2,176.2 L454.2,179.1 L455.2,179.1 L456.2,179.1 L457.2,179.1 L458.2,182.0 L459.2,182.0 L460.2,182.0 L461.2,182.0 L462.2,185.0 L463.2,185.0 L464.2,185.0 L465.2,185.0 L466.2,187.9 L467.2,187.9 L468.2,187.9 L469.2,190.9 L470.2,190.9 L471.2,190.9 L472.2,190.9 L473.2,193.8 L474.2,193.8 L475.2,193.8 L476.2,193.8 L477.2,196.7 L478.2,196.7 L479.2,196.7 L480.2,196.7 L481.2,196.7 L482.2,199.7 L483.2,199.7 L484.2,199.7 L485.2,199.7 L486.2,202.6 L487.2,202.6 L488.2,202.6 L489.2,205.6 L490.2,205.6 L491.2,205.6 L492.2,205.6 L493.2,205.6 L494.2,205.6 L495.2,205.6 L496.2,208.5 L497.2,208.5 L498.2,208.5 L499.2,208.5 L500.2,208.5 L501.2,208.5 L502.2,208.5 L503.2,208.5 L504.2,208.5 L505.2,211.4 L506.2,211.4 L507.2,211.4 L508.2,211.4 L509.2,211.4 L510.2,211.4 L511.2,211.4 L512.2,211.4 L513.2,211.4 L514.2,211.4 L515.2,211.4 L516.2,211.4 L517.2,211.4 L518.2,211.4 L519.2,211.4 L520.2,214.4 L521.2,214.4 L522.2,214.4 L523.2,214.4 L524.2,214.4 L525.2,214.4 L526.2,214.4 L527.2,214.4 L528.2,214.4 L529.2,214.4 L530.2,214.4 L531.2,214.4 L532.2,214.4 L533.2,214.4 L534.2,214.4 L535.2,217.3 L536.2,217.3 L537.2,217.3 L538.2,217.3 L539.2,217.3 L540.2,217.3 L541.2,217.3 L542.2,217.3 L543.2,217.3 L544.2,217.3 L545.2,217.3 L546.2,217.3 L547.2,217.3 L548.2,217.3 L549.2,220.3 L550.2,220.3 L551.2,220.3 L552.2,220.3 L553.2,220.3 L554.2,220.3 L555.2,220.3 L556.2,220.3 L557.2,220.3 L558.2,220.3 L559.2,220.3 L560.2,220.3 L561.2,220.3 L562.2,223.2 L563.2,223.2 L564.2,223.2 L565.2,223.2 L566.2,223.2 L567.2,223.2 L568.2,223.2 L569.2,223.2 L570.2,223.2 L571.2,223.2 L572.2,223.2 L573.2,223.2 L574.2,223.2 L575.2,226.1 L576.2,226.1 L577.2,226.1 L578.2,226.1 L579.2,226.1 L580.2,226.1 L581.2,226.1 L582.2,226.1 L583.2,226.1 L584.2,226.1 L585.2,226.1 L586.2,229.1 L587.2,229.1 L588.2,229.1 L589.2,229.1 L590.2,229.1 L591.2,229.1 L592.2,229.1 L593.2,229.1 L594.2,229.1 L595.2,229.1 L596.2,232.0 L597.2,232.0 L598.2,232.0 L599.2,232.0 L600.2,232.0 L601.2,232.0 L602.2,232.0 L603.2,232.0 L604.2,232.0 L605.2,235.0 L606.2,235.0 L607.2,235.0 L608.2,235.0 L609.2,235.0 L610.2,235.0 L611.2,237.9 L612.2,237.9 L613.2,237.9 L614.2,237.9 L615.2,237.9 L616.2,237.9 L617.2,237.9 L618.2,237.9 L619.2,240.8 L620.2,240.8 L621.2,240.8 L622.2,240.8 L623.2,240.8 L624.2,240.8 L625.2,243.8 L626.2,243.8 L627.2,243.8 L628.2,243.8 L629.2,246.7 L630.2,246.7 L631.2,246.7 L632.2,246.7 L633.2,246.7 L634.2,249.7 L635.2,249.7 L636.2,249.7 L637.2,249.7 L638.2,252.6 L639.2,252.6 L640.2,252.6 L641.2,252.6 L642.2,255.5 L643.2,255.5 L644.2,255.5 L645.2,258.5 L646.2,258.5 L647.2,258.5 L648.2,261.4 L649.2,261.4 L650.2,264.4 L651.2,264.4 L652.2,264.4 L653.2,267.3 L654.2,267.3 L655.2,267.3 L656.2,270.2 L657.2,273.2 L658.2,273.2 L659.2,276.1 L660.2,276.1 L661.2,279.1 L662.2,282.0 L663.2,282.0 L664.2,287.9 L665.2,290.8 L666.2,293.8 L667.2,299.0" fill="none" stroke="#ff0000" stroke-width="1.2" stroke-linejoin="round" stroke-dasharray="3.5 2.4" stroke-dashoffset="0"/>
<path d="M424.3,299.0 L424.3,298.5 L424.3,298.0 L424.3,297.5 L424.3,297.0 L424.3,296.5 L424.3,296.0 L424.3,295.5 L424.4,295.0 L424.4,294.5 L424.4,294.0 L424.4,293.5 L424.4,293.0 L424.4,292.5 L424.4,292.0 L424.4,291.5 L424.4,291.0 L424.4,290.5 L424.4,290.0 L424.4,289.5 L424.4,289.0 L424.4,288.5 L424.4,288.0 L424.4,287.5 L424.5,287.0 L424.5,286.5 L424.5,286.0 L424.5,285.5 L424.5,285.0 L424.5,284.5 L424.5,284.0 L424.5,283.5 L424.5,283.0 L424.5,282.5 L424.5,282.0 L424.5,281.5 L424.5,281.0 L424.5,280.5 L424.5,280.0 L424.6,279.5 L424.6,279.0 L424.6,278.5 L424.6,278.0 L424.6,277.5 L424.6,277.0 L424.6,276.5 L424.6,276.0 L424.6,275.5 L424.6,275.0 L424.6,274.5 L424.6,274.0 L424.6,273.5 L424.6,273.0 L424.6,272.5 L424.6,272.0 L424.7,271.5 L424.7,271.0 L424.7,270.5 L424.7,270.0 L424.7,269.5 L424.7,269.0 L424.7,268.5 L424.7,268.0 L424.7,267.5 L424.7,267.0 L424.7,266.5 L424.7,266.0 L424.7,265.5 L424.7,265.0 L424.7,264.5 L424.7,264.0 L424.8,263.5 L424.8,263.0 L424.8,262.5 L424.8,262.0 L424.8,261.5 L424.8,261.0 L424.8,260.5 L424.8,260.0 L424.8,259.5 L424.8,259.0 L424.8,258.5 L424.8,257.9 L424.8,257.4 L424.8,256.9 L424.8,256.4 L424.8,255.9 L424.9,255.4 L424.9,254.9 L424.9,254.4 L424.9,253.9 L424.9,253.4 L424.9,252.9 L424.9,252.4 L424.9,251.9 L424.9,251.4 L424.9,250.9 L424.9,250.4 L424.9,249.9 L424.9,249.4 L424.9,248.9 L424.9,248.4 L424.9,247.9 L424.9,247.4 L425.0,246.9 L425.0,246.4 L425.0,245.9 L425.0,245.4 L425.0,244.9 L425.0,244.4 L425.0,243.9 L425.0,243.4 L425.0,242.9 L425.0,242.4 L425.0,241.9 L425.0,241.4 L425.0,240.9 L425.0,240.4 L425.0,239.9 L425.0,239.4 L425.0,238.9 L425.0,238.4 L425.1,237.9 L425.1,237.4 L425.1,236.9 L425.1,236.4 L425.1,235.9 L425.1,235.4 L425.1,234.9 L425.1,234.4 L425.1,233.9 L425.1,233.4 L425.1,232.9 L425.1,232.4 L425.1,231.9 L425.1,231.4 L425.1,230.9 L425.1,230.4 L425.1,229.9 L425.2,229.4 L425.2,228.9 L425.2,228.4 L425.2,227.9 L425.2,227.4 L425.2,226.9 L425.2,226.4 L425.2,225.9 L425.2,225.4 L425.2,224.9 L425.2,224.4 L425.2,223.9 L425.2,223.4 L425.3,222.9 L425.3,222.4 L425.3,221.9 L425.3,221.4 L425.3,220.9 L425.3,220.4 L425.3,219.9 L425.3,219.4 L425.3,218.9 L425.3,218.4 L425.3,217.9 L425.3,217.4 L425.4,216.9 L425.4,216.4 L425.4,215.9 L425.4,215.4 L425.4,214.9 L425.4,214.4 L425.4,213.9 L425.4,213.4 L425.4,212.9 L425.5,212.4 L425.5,211.9 L425.5,211.4 L425.5,210.9 L425.5,210.4 L425.5,209.9 L425.5,209.4 L425.5,208.9 L425.5,208.4 L425.6,207.9 L425.6,207.4 L425.6,206.9 L425.6,206.4 L425.6,205.9 L425.6,205.4 L425.6,204.9 L425.7,204.4 L425.7,203.9 L425.7,203.4 L425.7,202.9 L425.7,202.4 L425.7,201.9 L425.7,201.4 L425.7,200.9 L425.8,200.4 L425.8,199.9 L425.8,199.4 L425.8,198.9 L425.8,198.4 L425.8,197.9 L425.9,197.4 L425.9,196.9 L425.9,196.4 L425.9,195.9 L425.9,195.4 L425.9,194.9 L426.0,194.4 L426.0,193.9 L426.0,193.4 L426.0,192.9 L426.0,192.4 L426.0,191.9 L426.1,191.4 L426.1,190.9 L426.1,190.4 L426.1,189.9 L426.1,189.4 L426.1,188.9 L426.2,188.4 L426.2,187.9 L426.2,187.4 L426.2,186.9 L426.2,186.4 L426.3,185.9 L426.3,185.4 L426.3,184.9 L426.3,184.4 L426.3,183.9 L426.4,183.4 L426.4,182.9 L426.4,182.4 L426.4,181.9 L426.5,181.4 L426.5,180.9 L426.5,180.4 L426.5,179.9 L426.6,179.4 L426.6,178.9 L426.6,178.4 L426.6,177.9 L426.7,177.4 L426.7,176.9 L426.7,176.4 L426.8,175.9 L426.8,175.4 L426.8,174.9 L426.8,174.4 L426.9,173.9 L426.9,173.4 L426.9,172.9 L427.0,172.4 L427.0,171.9 L427.0,171.4 L427.1,170.9 L427.1,170.4 L427.1,169.9 L427.2,169.4 L427.2,168.9 L427.2,168.4 L427.3,167.9 L427.3,167.4 L427.4,166.9 L427.4,166.4 L427.4,165.9 L427.5,165.4 L427.5,164.9 L427.5,164.4 L427.6,163.9 L427.6,163.4 L427.7,162.9 L427.7,162.4 L427.7,161.9 L427.8,161.4 L427.8,160.9 L427.8,160.4 L427.9,159.9 L427.9,159.4 L427.9,158.9 L428.0,158.4 L428.0,157.9 L428.1,157.4 L428.1,156.9 L428.2,156.4 L428.2,155.9 L428.2,155.4 L428.3,154.9 L428.3,154.4 L428.4,153.9 L428.4,153.4 L428.5,152.9 L428.5,152.4 L428.6,151.9 L428.7,151.4 L428.8,150.9 L429.0,150.4 L429.2,150.0 L429.4,149.5 L429.6,149.1 L429.9,148.7 L430.3,148.4 L430.7,148.0 L431.1,147.7 L431.5,147.4 L431.9,147.0 L432.3,146.6 L432.7,146.3 L433.1,146.1 L433.5,146.0 L433.9,146.1 L434.3,146.3 L434.7,146.7 L435.1,147.0 L435.5,147.5 L435.9,147.9 L436.3,148.3 L436.6,148.6 L436.9,149.0 L437.2,149.4 L437.5,149.8 L437.7,150.3 L438.0,150.7 L438.3,151.1 L438.5,151.5 L438.8,152.0 L439.1,152.4 L439.4,152.8 L439.7,153.2 L440.0,153.6 L440.3,154.0 L440.5,154.4 L440.8,154.9 L441.0,155.3 L441.2,155.8 L441.4,156.2 L441.6,156.7 L441.8,157.1 L441.9,157.6 L442.1,158.1 L442.3,158.6 L442.4,159.0 L442.6,159.5 L442.7,160.0 L442.9,160.5 L443.0,161.0 L443.2,161.4 L443.4,161.9 L443.6,162.4 L443.8,162.8 L443.9,163.3 L444.1,163.8 L444.3,164.2 L444.5,164.7 L444.7,165.2 L444.9,165.6 L445.1,166.1 L445.3,166.6 L445.5,167.0 L445.7,167.5 L445.9,167.9 L446.1,168.4 L446.3,168.8 L446.6,169.3 L446.8,169.7 L447.0,170.1 L447.3,170.6 L447.5,171.0 L447.8,171.4 L448.1,171.9 L448.3,172.3 L448.6,172.7 L448.9,173.1 L449.2,173.5 L449.5,173.9 L449.8,174.3 L450.1,174.7 L450.4,175.1 L450.7,175.5 L451.0,175.9 L451.3,176.3 L451.6,176.7 L451.9,177.1 L452.2,176.2 L453.2,179.1 L454.2,179.1 L455.2,182.0 L456.2,182.0 L457.2,185.0 L458.2,185.0 L459.2,185.0 L460.2,187.9 L461.2,187.9 L462.2,190.9 L463.2,190.9 L464.2,193.8 L465.2,193.8 L466.2,193.8 L467.2,196.7 L468.2,196.7 L469.2,196.7 L470.2,199.7 L471.2,199.7 L472.2,199.7 L473.2,199.7 L474.2,202.6 L475.2,202.6 L476.2,202.6 L477.2,202.6 L478.2,205.6 L479.2,205.6 L480.2,205.6 L481.2,208.5 L482.2,208.5 L483.2,208.5 L484.2,211.4 L485.2,211.4 L486.2,211.4 L487.2,214.4 L488.2,214.4 L489.2,214.4 L490.2,214.4 L491.2,214.4 L492.2,217.3 L493.2,217.3 L494.2,217.3 L495.2,217.3 L496.2,217.3 L497.2,217.3 L498.2,217.3 L499.2,217.3 L500.2,217.3 L501.2,217.3 L502.2,217.3 L503.2,217.3 L504.2,217.3 L505.2,220.3 L506.2,220.3 L507.2,220.3 L508.2,220.3 L509.2,220.3 L510.2,220.3 L511.2,220.3 L512.2,220.3 L513.2,220.3 L514.2,220.3 L515.2,220.3 L516.2,223.2 L517.2,223.2 L518.2,223.2 L519.2,223.2 L520.2,223.2 L521.2,223.2 L522.2,223.2 L523.2,226.1 L524.2,226.1 L525.2,226.1 L526.2,226.1 L527.2,226.1 L528.2,226.1 L529.2,226.1 L530.2,226.1 L531.2,226.1 L532.2,226.1 L533.2,226.1 L534.2,226.1 L535.2,226.1 L536.2,226.1 L537.2,226.1 L538.2,226.1 L539.2,226.1 L540.2,229.1 L541.2,229.1 L542.2,229.1 L543.2,229.1 L544.2,229.1 L545.2,232.0 L546.2,232.0 L547.2,232.0 L548.2,232.0 L549.2,232.0 L550.2,232.0 L551.2,232.0 L552.2,232.0 L553.2,232.0 L554.2,232.0 L555.2,232.0 L556.2,232.0 L557.2,235.0 L558.2,235.0 L559.2,235.0 L560.2,235.0 L561.2,235.0 L562.2,235.0 L563.2,235.0 L564.2,235.0 L565.2,235.0 L566.2,235.0 L567.2,237.9 L568.2,237.9 L569.2,237.9 L570.2,237.9 L571.2,237.9 L572.2,237.9 L573.2,237.9 L574.2,237.9 L575.2,237.9 L576.2,237.9 L577.2,237.9 L578.2,240.8 L579.2,240.8 L580.2,240.8 L581.2,240.8 L582.2,240.8 L583.2,240.8 L584.2,240.8 L585.2,243.8 L586.2,243.8 L587.2,243.8 L588.2,243.8 L589.2,243.8 L590.2,243.8 L591.2,243.8 L592.2,246.7 L593.2,246.7 L594.2,246.7 L595.2,246.7 L596.2,246.7 L597.2,246.7 L598.2,246.7 L599.2,249.7 L600.2,249.7 L601.2,249.7 L602.2,249.7 L603.2,249.7 L604.2,249.7 L605.2,249.7 L606.2,249.7 L607.2,252.6 L608.2,252.6 L609.2,252.6 L610.2,252.6 L611.2,252.6 L612.2,252.6 L613.2,255.5 L614.2,255.5 L615.2,255.5 L616.2,255.5 L617.2,255.5 L618.2,258.5 L619.2,258.5 L620.2,258.5 L621.2,261.4 L622.2,261.4 L623.2,264.4 L624.2,264.4 L625.2,264.4 L626.2,264.4 L627.2,267.3 L628.2,267.3 L629.2,267.3 L630.2,270.2 L631.2,270.2 L632.2,273.2 L633.2,273.2 L634.2,276.1 L635.2,276.1 L636.2,279.1 L637.2,282.0 L638.2,284.9 L639.2,287.9 L640.2,290.8 L641.2,296.7 L641.5,299.0" fill="none" stroke="#1a1a1a" stroke-width="1.2" stroke-linejoin="round" stroke-dasharray="3.5 2.4" stroke-dashoffset="0"/>
<path d="M424.3,299.0 L424.3,298.5 L424.3,298.0 L424.3,297.5 L424.3,297.0 L424.3,296.5 L424.3,296.0 L424.3,295.5 L424.4,295.0 L424.4,294.5 L424.4,294.0 L424.4,293.5 L424.4,293.0 L424.4,292.5 L424.4,292.0 L424.4,291.5 L424.4,291.0 L424.4,290.5 L424.4,290.0 L424.4,289.5 L424.4,289.0 L424.4,288.5 L424.4,288.0 L424.4,287.5 L424.5,287.0 L424.5,286.5 L424.5,286.0 L424.5,285.5 L424.5,285.0 L424.5,284.5 L424.5,284.0 L424.5,283.5 L424.5,283.0 L424.5,282.5 L424.5,282.0 L424.5,281.5 L424.5,281.0 L424.5,280.5 L424.5,280.0 L424.6,279.5 L424.6,279.0 L424.6,278.5 L424.6,278.0 L424.6,277.5 L424.6,277.0 L424.6,276.5 L424.6,276.0 L424.6,275.5 L424.6,275.0 L424.6,274.5 L424.6,274.0 L424.6,273.5 L424.6,273.0 L424.6,272.5 L424.6,272.0 L424.7,271.5 L424.7,271.0 L424.7,270.5 L424.7,270.0 L424.7,269.5 L424.7,269.0 L424.7,268.5 L424.7,268.0 L424.7,267.5 L424.7,267.0 L424.7,266.5 L424.7,266.0 L424.7,265.5 L424.7,265.0 L424.7,264.5 L424.7,264.0 L424.8,263.5 L424.8,263.0 L424.8,262.5 L424.8,261.9 L424.8,261.4 L424.8,260.9 L424.8,260.4 L424.8,259.9 L424.8,259.4 L424.8,258.9 L424.8,258.4 L424.8,257.9 L424.8,257.4 L424.8,256.9 L424.8,256.4 L424.8,255.9 L424.9,255.4 L424.9,254.9 L424.9,254.4 L424.9,253.9 L424.9,253.4 L424.9,252.9 L424.9,252.4 L424.9,251.9 L424.9,251.4 L424.9,250.9 L424.9,250.4 L424.9,249.9 L424.9,249.4 L424.9,248.9 L424.9,248.4 L424.9,247.9 L424.9,247.4 L425.0,246.9 L425.0,246.4 L425.0,245.9 L425.0,245.4 L425.0,244.9 L425.0,244.4 L425.0,243.9 L425.0,243.4 L425.0,242.9 L425.0,242.4 L425.0,241.9 L425.0,241.4 L425.0,240.9 L425.0,240.4 L425.0,239.9 L425.0,239.4 L425.0,238.9 L425.0,238.4 L425.1,237.9 L425.1,237.4 L425.1,236.9 L425.1,236.4 L425.1,235.9 L425.1,235.4 L425.1,234.9 L425.1,234.4 L425.1,233.9 L425.1,233.4 L425.1,232.9 L425.1,232.4 L425.1,231.9 L425.1,231.4 L425.1,230.9 L425.1,230.4 L425.1,229.9 L425.2,229.4 L425.2,228.9 L425.2,228.4 L425.2,227.9 L425.2,227.4 L425.2,226.9 L425.2,226.4 L425.2,225.9 L425.2,225.4 L425.2,224.9 L425.2,224.4 L425.2,223.9 L425.2,223.4 L425.3,222.9 L425.3,222.4 L425.3,221.9 L425.3,221.4 L425.3,220.9 L425.3,220.4 L425.3,219.9 L425.3,219.4 L425.3,218.9 L425.3,218.4 L425.3,217.9 L425.3,217.4 L425.4,216.9 L425.4,216.4 L425.4,215.9 L425.4,215.4 L425.4,214.9 L425.4,214.4 L425.4,213.9 L425.4,213.4 L425.4,212.9 L425.5,212.4 L425.5,211.9 L425.5,211.4 L425.5,210.9 L425.5,210.4 L425.5,209.9 L425.5,209.4 L425.5,208.9 L425.5,208.4 L425.6,207.9 L425.6,207.4 L425.6,206.9 L425.6,206.4 L425.6,205.9 L425.6,205.4 L425.6,204.9 L425.7,204.4 L425.7,203.9 L425.7,203.4 L425.7,202.9 L425.7,202.4 L425.7,201.9 L425.7,201.4 L425.7,200.9 L425.8,200.4 L425.8,199.9 L425.8,199.4 L425.8,198.9 L425.8,198.4 L425.8,197.9 L425.9,197.4 L425.9,196.9 L425.9,196.4 L425.9,195.9 L425.9,195.4 L425.9,194.9 L426.0,194.4 L426.0,193.9 L426.0,193.4 L426.0,192.9 L426.0,192.4 L426.0,191.9 L426.1,191.4 L426.1,190.9 L426.1,190.4 L426.1,189.9 L426.1,189.4 L426.1,188.9 L426.2,188.4 L426.2,187.9 L426.2,187.4 L426.2,186.9 L426.2,186.4 L426.3,185.9 L426.3,185.4 L426.3,184.9 L426.3,184.4 L426.3,183.9 L426.4,183.4 L426.4,182.9 L426.4,182.4 L426.4,181.9 L426.5,181.4 L426.5,180.9 L426.5,180.4 L426.5,179.9 L426.6,179.4 L426.6,178.9 L426.6,178.4 L426.6,177.9 L426.7,177.4 L426.7,176.9 L426.7,176.4 L426.8,175.9 L426.8,175.4 L426.8,174.9 L426.8,174.4 L426.9,173.9 L426.9,173.4 L426.9,172.9 L427.0,172.4 L427.0,171.9 L427.0,171.4 L427.1,170.9 L427.1,170.4 L427.1,169.9 L427.2,169.4 L427.2,168.9 L427.3,168.4 L427.3,167.9 L427.3,167.4 L427.4,166.9 L427.4,166.4 L427.4,165.9 L427.5,165.4 L427.5,164.9 L427.5,164.4 L427.6,163.9 L427.6,163.4 L427.7,162.9 L427.7,162.4 L427.7,161.9 L427.8,161.4 L427.8,160.9 L427.8,160.4 L427.9,159.9 L427.9,159.4 L427.9,158.9 L428.0,158.4 L428.0,157.9 L428.1,157.4 L428.1,156.9 L428.2,156.4 L428.2,155.9 L428.2,155.4 L428.3,154.9 L428.3,154.4 L428.4,153.9 L428.4,153.4 L428.5,152.9 L428.5,152.4 L428.6,151.9 L428.6,151.4 L428.7,150.9 L428.7,150.4 L428.8,149.9 L428.9,149.4 L429.0,148.9 L429.1,148.4 L429.2,147.9 L429.3,147.4 L429.4,146.9 L429.4,146.5 L429.5,146.0 L429.6,145.5 L429.6,145.0 L429.6,144.5 L429.7,144.0 L429.7,143.5 L429.8,143.0 L429.8,142.5 L429.9,142.0 L430.0,141.5 L430.0,141.0 L430.2,140.5 L430.3,140.0 L430.4,139.5 L430.5,139.0 L430.6,138.5 L430.7,138.0 L430.8,137.4 L431.0,136.9 L431.2,136.5 L431.4,136.2 L431.8,136.0 L432.3,135.8 L432.8,135.6 L433.2,135.3 L433.6,135.0 L434.0,134.7 L434.4,134.3 L434.7,134.0 L435.1,133.6 L435.4,133.3 L435.8,132.9 L436.3,132.5 L436.7,132.2 L436.9,132.3 L437.1,132.7 L437.3,133.3 L437.4,133.9 L437.5,134.4 L437.5,135.0 L437.5,135.6 L437.6,136.3 L437.6,136.9 L437.6,137.5 L437.7,138.1 L437.7,138.6 L437.7,139.0 L437.8,139.3 L437.9,139.4 L438.1,139.1 L438.5,138.6 L438.8,138.4 L439.3,138.2 L439.8,138.1 L440.3,138.0 L440.9,138.0 L441.4,138.0 L441.9,138.0 L442.4,138.1 L442.9,138.1 L443.3,138.2 L443.7,138.4 L444.0,138.8 L444.4,139.2 L444.7,139.7 L445.0,140.1 L445.4,140.5 L445.8,140.8 L446.1,141.2 L446.5,141.5 L446.9,141.9 L447.2,142.3 L447.4,142.7 L447.6,143.1 L447.7,143.6 L447.9,144.1 L448.0,144.6 L448.2,145.1 L448.3,145.6 L448.5,146.0 L448.7,146.5 L448.9,147.0 L449.1,147.4 L449.3,147.9 L449.5,148.3 L449.7,148.8 L450.0,149.2 L450.2,149.6 L450.6,150.0 L450.9,150.4 L451.2,150.8 L451.5,151.2 L451.7,151.6 L452.0,152.0 L452.2,152.6 L453.2,155.6 L454.2,155.6 L455.2,158.5 L456.2,161.5 L457.2,164.4 L458.2,164.4 L459.2,164.4 L460.2,167.3 L461.2,167.3 L462.2,170.3 L463.2,170.3 L464.2,173.2 L465.2,176.2 L466.2,179.1 L467.2,179.1 L468.2,182.0 L469.2,185.0 L470.2,185.0 L471.2,187.9 L472.2,187.9 L473.2,190.9 L474.2,193.8 L475.2,193.8 L476.2,196.7 L477.2,196.7 L478.2,199.7 L479.2,199.7 L480.2,202.6 L481.2,202.6 L482.2,202.6 L483.2,202.6 L484.2,205.6 L485.2,205.6 L486.2,205.6 L487.2,208.5 L488.2,208.5 L489.2,211.4 L490.2,211.4 L491.2,211.4 L492.2,214.4 L493.2,214.4 L494.2,214.4 L495.2,214.4 L496.2,217.3 L497.2,217.3 L498.2,217.3 L499.2,217.3 L500.2,217.3 L501.2,217.3 L502.2,217.3 L503.2,220.3 L504.2,220.3 L505.2,220.3 L506.2,220.3 L507.2,220.3 L508.2,220.3 L509.2,223.2 L510.2,223.2 L511.2,223.2 L512.2,223.2 L513.2,223.2 L514.2,223.2 L515.2,223.2 L516.2,223.2 L517.2,223.2 L518.2,223.2 L519.2,226.1 L520.2,226.1 L521.2,226.1 L522.2,226.1 L523.2,226.1 L524.2,226.1 L525.2,226.1 L526.2,229.1 L527.2,229.1 L528.2,229.1 L529.2,229.1 L530.2,229.1 L531.2,229.1 L532.2,229.1 L533.2,229.1 L534.2,229.1 L535.2,229.1 L536.2,232.0 L537.2,232.0 L538.2,232.0 L539.2,232.0 L540.2,232.0 L541.2,232.0 L542.2,232.0 L543.2,232.0 L544.2,235.0 L545.2,235.0 L546.2,235.0 L547.2,235.0 L548.2,235.0 L549.2,237.9 L550.2,237.9 L551.2,237.9 L552.2,237.9 L553.2,237.9 L554.2,237.9 L555.2,237.9 L556.2,237.9 L557.2,237.9 L558.2,240.8 L559.2,240.8 L560.2,240.8 L561.2,240.8 L562.2,240.8 L563.2,240.8 L564.2,240.8 L565.2,243.8 L566.2,243.8 L567.2,243.8 L568.2,243.8 L569.2,243.8 L570.2,246.7 L571.2,246.7 L572.2,246.7 L573.2,246.7 L574.2,246.7 L575.2,249.7 L576.2,249.7 L577.2,249.7 L578.2,249.7 L579.2,249.7 L580.2,249.7 L581.2,252.6 L582.2,252.6 L583.2,252.6 L584.2,252.6 L585.2,252.6 L586.2,252.6 L587.2,252.6 L588.2,255.5 L589.2,255.5 L590.2,255.5 L591.2,255.5 L592.2,255.5 L593.2,255.5 L594.2,258.5 L595.2,258.5 L596.2,258.5 L597.2,258.5 L598.2,258.5 L599.2,261.4 L600.2,261.4 L601.2,261.4 L602.2,261.4 L603.2,264.4 L604.2,264.4 L605.2,264.4 L606.2,264.4 L607.2,267.3 L608.2,267.3 L609.2,267.3 L610.2,267.3 L611.2,270.2 L612.2,270.2 L613.2,270.2 L614.2,273.2 L615.2,273.2 L616.2,276.1 L617.2,276.1 L618.2,279.1 L619.2,279.1 L620.2,279.1 L621.2,282.0 L622.2,284.9 L623.2,284.9 L624.2,287.9 L625.2,290.8 L626.2,290.8 L627.2,296.7 L628.0,299.0" fill="none" stroke="#0000ff" stroke-width="1.2" stroke-linejoin="round" stroke-dasharray="3.5 2.4" stroke-dashoffset="0"/>
<text x="48.9" y="303.40" font-family="Liberation Sans, sans-serif" stroke="#000" stroke-width="0.3" font-size="12.2" text-anchor="end">0.0</text>
<text x="48.9" y="244.60" font-family="Liberation Sans, sans-serif" stroke="#000" stroke-width="0.3" font-size="12.2" text-anchor="end">0.2</text>
<text x="48.9" y="185.80" font-family="Liberation Sans, sans-serif" stroke="#000" stroke-width="0.3" font-size="12.2" text-anchor="end">0.4</text>
<text x="48.9" y="127.00" font-family="Liberation Sans, sans-serif" stroke="#000" stroke-width="0.3" font-size="12.2" text-anchor="end">0.6</text>
<text x="48.9" y="68.20" font-family="Liberation Sans, sans-serif" stroke="#000" stroke-width="0.3" font-size="12.2" text-anchor="end">0.8</text>
<text x="48.9" y="9.40" font-family="Liberation Sans, sans-serif" stroke="#000" stroke-width="0.3" font-size="12.2" text-anchor="end">1.0</text>
<text x="54" y="314" font-family="Liberation Sans, sans-serif" stroke="#000" stroke-width="0.3" font-size="12.6" text-anchor="middle">0</text>
<text x="152" y="314" font-family="Liberation Sans, sans-serif" stroke="#000" stroke-width="0.3" font-size="12.6" text-anchor="middle">2</text>
<text x="250" y="314" font-family="Liberation Sans, sans-serif" stroke="#000" stroke-width="0.3" font-size="12.6" text-anchor="middle">4</text>
<text x="348" y="314" font-family="Liberation Sans, sans-serif" stroke="#000" stroke-width="0.3" font-size="12.6" text-anchor="middle">6</text>
<text x="403.0" y="9.10" font-family="Liberation Sans, sans-serif" stroke="#000" stroke-width="0.15" font-size="10.2">10<tspan font-size="6.2" dx="-1.2" dy="-5.4">3</tspan></text>
<text x="403.0" y="156.10" font-family="Liberation Sans, sans-serif" stroke="#000" stroke-width="0.15" font-size="10.2">10<tspan font-size="6.2" dx="-1.2" dy="-5.4">2</tspan></text>
<text x="403.0" y="303.10" font-family="Liberation Sans, sans-serif" stroke="#000" stroke-width="0.15" font-size="10.2">10<tspan font-size="6.2" dx="-1.2" dy="-5.4">1</tspan></text>
<text x="422" y="312.6" font-family="Liberation Sans, sans-serif" stroke="#000" stroke-width="0.15" font-size="10" text-anchor="middle">0</text>
<text x="520" y="312.6" font-family="Liberation Sans, sans-serif" stroke="#000" stroke-width="0.15" font-size="10" text-anchor="middle">2</text>
<text x="618" y="312.6" font-family="Liberation Sans, sans-serif" stroke="#000" stroke-width="0.15" font-size="10" text-anchor="middle">4</text>
<text x="716" y="312.6" font-family="Liberation Sans, sans-serif" stroke="#000" stroke-width="0.15" font-size="10" text-anchor="middle">6</text>
<text y="340" font-family="Liberation Serif, serif" stroke="#000" stroke-width="0.2" font-size="14"><tspan x="175.3" font-style="italic">t</tspan><tspan x="183.3">(10</tspan><tspan x="203.3" font-size="9" dy="-5.8">6</tspan><tspan x="210.9" dy="5.8">yr)</tspan></text>
<text y="332.6" font-family="Liberation Serif, serif" stroke="#000" stroke-width="0.2" font-size="14"><tspan x="541.7" font-style="italic">t</tspan><tspan x="549.7">(10</tspan><tspan x="569.7" font-size="9" dy="-5.8">6</tspan><tspan x="577.3" dy="5.8">yr)</tspan></text>
<text transform="translate(9.8,186.8) rotate(-90)" font-family="Liberation Serif, serif" stroke="#000" stroke-width="0.2" font-size="13.6"><tspan font-style="italic">M</tspan><tspan font-style="italic" font-size="9" dy="5.3">star/disk</tspan><tspan dy="-5.3" font-size="14.3"> (M</tspan><tspan font-size="8.6" dy="5.3">sun</tspan><tspan dy="-5.3" dx="0.3" font-size="14.3">)</tspan></text>
<text transform="translate(389.9,177) rotate(-90)" font-family="Liberation Serif, serif" stroke="#000" stroke-width="0.2" font-size="13.6"><tspan font-style="italic">R</tspan><tspan font-style="italic" font-size="8.6" dy="5.0" dx="-0.3">disk</tspan><tspan dy="-5.0" dx="-0.8"> (AU)</tspan></text>
<line x1="233.8" y1="109.3" x2="267.2" y2="109.3" stroke="#ff0000" stroke-width="1.2"/>
<text x="271.1" y="114.30" font-family="Liberation Serif, serif" stroke="#000" stroke-width="0.2" font-size="15.6">&#923;<tspan dx="-1.1">=</tspan><tspan dx="-0.1">0.5</tspan></text>
<line x1="233.8" y1="144.9" x2="267.2" y2="144.9" stroke="#3a3a3a" stroke-width="1.7"/>
<text x="271.1" y="149.90" font-family="Liberation Serif, serif" stroke="#000" stroke-width="0.2" font-size="15.6">&#923;<tspan dx="-1.1">=</tspan><tspan dx="-0.1">1</tspan></text>
<line x1="233.8" y1="180.4" x2="267.2" y2="180.4" stroke="#0000ff" stroke-width="1.2"/>
<text x="271.1" y="185.40" font-family="Liberation Serif, serif" stroke="#000" stroke-width="0.2" font-size="15.6">&#923;<tspan dx="-1.1">=</tspan><tspan dx="-0.1">2</tspan></text>
<line x1="604" y1="141" x2="631.5" y2="141" stroke="#ff0000" stroke-width="1.2"/>
<text x="635.1" y="145.30" font-family="Liberation Serif, serif" stroke="#000" stroke-width="0.2" font-size="13.4">R<tspan font-size="12" dx="-0.3" dy="3.6" stroke="none">g,</tspan><tspan dy="-3.6" dx="0.4"> &#923;</tspan><tspan dx="-0.8">=</tspan><tspan dx="-0.6">0.5</tspan></text>
<line x1="604" y1="172.6" x2="631.5" y2="172.6" stroke="#3a3a3a" stroke-width="1.7"/>
<text x="635.1" y="176.90" font-family="Liberation Serif, serif" stroke="#000" stroke-width="0.2" font-size="13.4">R<tspan font-size="12" dx="-0.3" dy="3.6" stroke="none">g,</tspan><tspan dy="-3.6" dx="0.4"> &#923;</tspan><tspan dx="-0.8">=</tspan><tspan dx="-0.6">1</tspan></text>
<line x1="604" y1="204.7" x2="631.5" y2="204.7" stroke="#0000ff" stroke-width="1.2"/>
<text x="635.1" y="209.00" font-family="Liberation Serif, serif" stroke="#000" stroke-width="0.2" font-size="13.4">R<tspan font-size="12" dx="-0.3" dy="3.6" stroke="none">g,</tspan><tspan dy="-3.6" dx="0.4"> &#923;</tspan><tspan dx="-0.8">=</tspan><tspan dx="-0.6">2</tspan></text>
<text x="104.9" y="236.9" font-family="Liberation Serif, serif" stroke="#000" stroke-width="0.2" font-size="25.5" letter-spacing="0.3">(a)</text>
<text x="448.3" y="236.7" font-family="Liberation Serif, serif" stroke="#000" stroke-width="0.2" font-size="25.5" letter-spacing="0.3">(b)</text>
</svg>
</body></html>
